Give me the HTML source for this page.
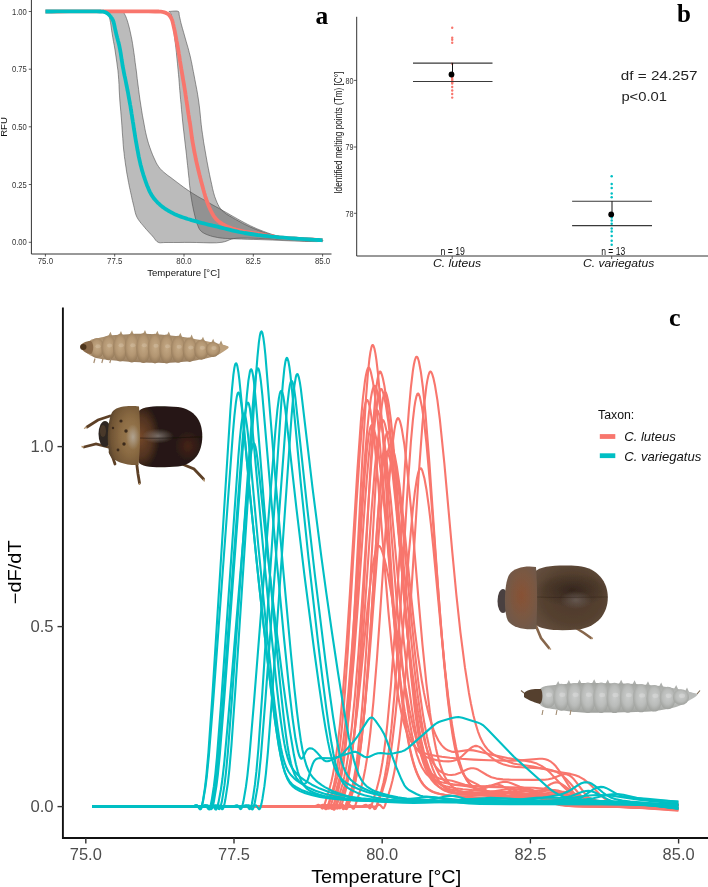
<!DOCTYPE html>
<html><head><meta charset="utf-8"><title>Figure</title>
<style>
html,body{margin:0;padding:0;background:#fff;}
body{width:708px;height:887px;overflow:hidden;}
svg{display:block;font-family:"Liberation Sans",sans-serif;will-change:transform;}
</style></head><body>
<svg width="708" height="887" viewBox="0 0 708 887">
<rect width="708" height="887" fill="#fff"/>
<path d="M108.0,11.5 L108.2,12.3 L108.6,13.8 L109.1,15.8 L109.6,17.9 L110.0,20.0 L110.5,22.5 L110.9,25.1 L111.3,27.9 L111.7,30.8 L112.2,33.8 L112.8,37.6 L113.5,41.6 L114.3,45.7 L115.0,49.9 L115.6,54.0 L116.2,58.0 L116.8,62.1 L117.3,66.1 L117.9,70.2 L118.3,74.5 L118.7,79.5 L119.0,84.6 L119.2,89.9 L119.5,95.1 L119.8,100.0 L120.1,104.1 L120.5,108.0 L120.8,111.8 L121.1,115.8 L121.5,120.0 L121.9,125.8 L122.3,132.1 L122.8,138.5 L123.2,144.6 L123.7,150.0 L124.1,153.3 L124.4,156.4 L124.8,159.3 L125.2,162.1 L125.6,165.0 L126.1,168.0 L126.5,171.1 L127.0,174.1 L127.6,177.1 L128.1,180.0 L128.6,182.6 L129.1,185.2 L129.6,187.7 L130.2,190.2 L130.7,192.7 L131.3,195.2 L131.8,197.8 L132.4,200.4 L133.0,202.9 L133.6,205.4 L134.2,207.8 L134.7,210.3 L135.3,212.7 L136.0,215.0 L137.0,217.3 L138.3,219.5 L139.8,221.6 L141.4,223.6 L143.1,225.6 L144.7,227.5 L146.2,229.3 L147.8,231.0 L149.3,232.7 L150.8,234.3 L152.3,235.9 L153.5,237.3 L154.6,238.8 L155.7,240.3 L156.9,241.5 L158.2,242.3 L159.4,242.7 L160.6,242.8 L161.9,242.7 L163.3,242.6 L165.0,242.5 L168.9,242.5 L173.7,242.5 L179.0,242.5 L184.6,242.4 L190.0,242.4 L196.4,242.5 L203.3,242.7 L210.2,242.9 L216.6,242.8 L222.0,242.3 L224.7,241.7 L227.0,240.9 L229.1,240.0 L231.2,239.2 L233.6,238.6 L236.8,238.2 L240.1,238.1 L243.6,238.1 L247.3,238.1 L251.4,238.2 L258.2,238.4 L265.9,238.8 L274.1,239.2 L282.3,239.6 L290.0,240.0 L297.6,240.4 L306.0,240.9 L313.8,241.3 L319.8,241.4 L322.6,241.0 L322.7,240.9 L322.7,240.8 L322.7,240.6 L322.7,240.5 L322.6,240.4 L320.6,239.9 L316.3,239.6 L310.8,239.5 L305.1,239.3 L300.0,239.0 L295.7,238.6 L291.5,238.2 L287.3,237.7 L283.1,237.1 L279.0,236.3 L275.1,235.3 L271.2,234.1 L267.4,232.8 L263.6,231.4 L260.0,230.0 L256.8,228.7 L253.7,227.3 L250.7,225.9 L247.7,224.4 L244.6,222.8 L241.1,220.9 L237.5,218.9 L233.9,216.9 L230.2,214.8 L226.6,212.7 L223.0,210.7 L219.4,208.6 L215.7,206.6 L212.1,204.6 L208.5,202.5 L204.9,200.4 L201.2,198.4 L197.5,196.3 L193.9,194.1 L190.4,191.9 L187.0,189.6 L183.7,187.3 L180.4,184.8 L177.2,182.4 L174.0,180.0 L171.0,177.7 L167.9,175.5 L165.0,173.2 L162.3,170.9 L160.0,168.5 L158.5,166.5 L157.2,164.5 L156.1,162.5 L155.1,160.3 L154.0,158.0 L152.6,154.8 L151.2,151.2 L149.9,147.6 L148.6,143.8 L147.5,140.0 L146.5,136.1 L145.6,132.2 L144.8,128.2 L144.1,124.2 L143.3,120.0 L142.4,115.2 L141.6,110.2 L140.8,105.1 L140.0,100.0 L139.3,94.8 L138.6,89.4 L137.9,84.0 L137.2,78.5 L136.6,73.0 L135.9,67.7 L135.2,62.7 L134.6,57.6 L133.9,52.6 L133.2,47.8 L132.5,43.3 L131.9,39.8 L131.2,36.3 L130.5,33.1 L129.8,29.9 L129.1,27.0 L128.5,24.8 L127.9,22.6 L127.3,20.6 L126.6,18.7 L126.0,17.0 L125.5,15.9 L125.0,14.9 L124.5,14.0 L124.1,13.2 L123.7,12.5 L123.6,12.2 L123.5,12.0 L123.4,11.8 L123.2,11.7 L123.0,11.5 L120.9,11.2 L117.2,11.1 L113.2,11.2 L109.7,11.4 L108.0,11.5Z" fill="#555" fill-opacity="0.4" stroke="#444" stroke-width="0.55"/>
<path d="M169.0,11.5 L169.2,11.7 L169.6,12.1 L170.1,12.6 L170.6,13.3 L171.0,14.0 L171.6,15.9 L172.0,18.3 L172.4,21.1 L172.7,24.0 L173.1,27.0 L173.6,30.7 L174.2,34.7 L174.7,38.8 L175.3,43.1 L175.8,47.4 L176.4,52.6 L176.9,58.1 L177.5,63.8 L178.0,69.3 L178.5,74.5 L178.9,78.7 L179.2,82.7 L179.5,86.7 L179.8,90.6 L180.2,94.8 L180.6,99.6 L181.1,104.6 L181.5,109.6 L182.0,114.8 L182.5,120.0 L183.1,125.9 L183.8,131.9 L184.5,138.1 L185.2,144.1 L185.9,150.0 L186.5,155.2 L187.0,160.4 L187.6,165.5 L188.1,170.3 L188.6,175.0 L189.0,178.6 L189.3,182.0 L189.6,185.3 L190.0,188.5 L190.4,191.9 L190.9,195.5 L191.5,199.2 L192.1,202.9 L192.8,206.5 L193.5,210.0 L194.2,213.0 L194.9,216.0 L195.6,218.9 L196.4,221.6 L197.2,224.0 L197.8,225.6 L198.4,227.0 L199.0,228.4 L199.7,229.6 L200.6,230.7 L201.5,231.6 L202.6,232.4 L203.7,233.1 L204.9,233.7 L206.2,234.3 L208.2,235.1 L210.3,235.8 L212.7,236.5 L215.1,237.0 L217.5,237.5 L220.0,237.9 L222.6,238.2 L225.2,238.4 L227.9,238.5 L231.0,238.7 L235.9,238.9 L241.3,239.1 L247.1,239.3 L253.3,239.4 L260.0,239.6 L272.8,240.1 L288.8,240.8 L304.6,241.4 L317.0,241.6 L322.6,241.0 L322.7,240.9 L322.7,240.8 L322.7,240.6 L322.7,240.5 L322.6,240.4 L320.6,239.9 L316.3,239.8 L310.8,239.7 L305.1,239.7 L300.0,239.5 L295.8,239.2 L291.6,238.9 L287.5,238.5 L283.3,237.9 L279.0,237.1 L274.0,235.8 L268.8,234.2 L263.6,232.4 L258.5,230.4 L253.7,228.5 L249.8,226.8 L246.0,225.0 L242.4,223.2 L239.0,221.3 L235.6,219.4 L232.6,217.7 L229.6,216.0 L226.8,214.3 L224.2,212.4 L222.0,210.4 L220.4,208.5 L219.1,206.6 L218.0,204.6 L217.0,202.4 L216.0,200.0 L214.7,196.5 L213.6,192.7 L212.6,188.7 L211.7,184.4 L210.7,180.0 L209.5,174.3 L208.3,168.2 L207.1,161.9 L206.0,155.7 L205.0,150.0 L204.3,145.8 L203.6,141.9 L203.1,138.1 L202.5,134.2 L201.9,130.0 L201.2,124.3 L200.6,118.3 L200.0,112.1 L199.3,105.9 L198.5,100.0 L197.7,94.8 L196.8,89.6 L195.8,84.5 L194.9,79.7 L194.0,75.0 L193.3,71.4 L192.6,67.8 L192.0,64.5 L191.3,61.2 L190.6,58.0 L190.0,55.3 L189.3,52.8 L188.7,50.3 L188.0,47.7 L187.2,45.0 L186.1,41.2 L184.9,37.0 L183.7,32.7 L182.5,28.6 L181.5,25.0 L180.9,22.7 L180.4,20.5 L180.0,18.5 L179.5,16.6 L179.2,15.0 L179.1,14.1 L179.1,13.3 L179.0,12.6 L178.9,12.0 L178.5,11.5 L177.0,11.0 L174.7,11.0 L172.2,11.2 L170.1,11.4 L169.0,11.5Z" fill="#555" fill-opacity="0.4" stroke="#444" stroke-width="0.55"/>
<path d="M45.4,11.5 L49.7,11.5 L57.9,11.5 L69.2,11.4 L82.6,11.4 L97.2,11.4 L112.0,11.4 L126.1,11.4 L138.6,11.4 L148.5,11.4 L155.0,11.5 L156.0,11.5 L157.0,11.5 L157.8,11.5 L158.5,11.5 L159.2,11.6 L159.7,11.6 L160.3,11.6 L160.9,11.6 L161.4,11.7 L162.0,11.8 L162.5,11.9 L162.9,12.0 L163.3,12.1 L163.7,12.2 L164.1,12.3 L164.5,12.4 L164.9,12.5 L165.3,12.7 L165.6,12.8 L166.0,13.0 L166.3,13.2 L166.7,13.3 L167.0,13.5 L167.3,13.6 L167.6,13.8 L167.9,14.0 L168.2,14.2 L168.5,14.4 L168.7,14.6 L169.0,14.9 L169.3,15.3 L169.6,15.6 L169.9,16.0 L170.2,16.5 L170.5,17.0 L170.8,17.4 L171.1,17.9 L171.3,18.4 L171.6,19.0 L171.8,19.5 L172.1,20.1 L172.3,20.8 L172.5,21.5 L172.7,22.2 L172.9,22.9 L173.0,23.6 L173.2,24.4 L173.4,25.2 L173.6,26.1 L173.8,27.0 L174.2,28.6 L174.6,30.5 L175.0,32.4 L175.4,34.5 L175.8,36.7 L176.2,38.9 L176.6,41.1 L177.1,43.3 L177.4,45.4 L177.8,47.4 L178.1,49.1 L178.4,50.8 L178.7,52.4 L178.9,54.0 L179.2,55.6 L179.4,57.2 L179.7,58.8 L179.9,60.5 L180.2,62.2 L180.5,64.0 L180.9,66.4 L181.3,68.9 L181.8,71.5 L182.2,74.2 L182.7,76.9 L183.1,79.7 L183.6,82.4 L184.1,85.2 L184.5,87.8 L184.9,90.4 L185.3,92.8 L185.6,95.1 L186.0,97.5 L186.3,99.8 L186.7,102.1 L187.0,104.4 L187.4,106.7 L187.7,108.9 L188.0,111.0 L188.3,113.0 L188.5,114.5 L188.8,116.0 L189.0,117.4 L189.2,118.8 L189.4,120.2 L189.6,121.5 L189.9,122.8 L190.1,124.2 L190.3,125.6 L190.5,127.0 L190.7,128.5 L190.9,130.0 L191.1,131.5 L191.3,133.0 L191.5,134.6 L191.7,136.1 L191.9,137.7 L192.2,139.3 L192.4,140.9 L192.7,142.6 L193.1,144.7 L193.5,146.9 L193.9,149.2 L194.3,151.5 L194.8,153.8 L195.3,156.2 L195.7,158.5 L196.2,160.8 L196.7,163.0 L197.2,165.2 L197.6,167.1 L198.1,169.0 L198.5,170.8 L199.0,172.7 L199.4,174.5 L199.9,176.3 L200.3,178.0 L200.8,179.8 L201.2,181.6 L201.7,183.3 L202.1,184.9 L202.6,186.6 L203.0,188.2 L203.4,189.8 L203.9,191.5 L204.3,193.0 L204.8,194.6 L205.2,196.1 L205.7,197.6 L206.2,199.1 L206.6,200.3 L207.0,201.5 L207.5,202.7 L207.9,203.9 L208.3,205.0 L208.8,206.1 L209.2,207.2 L209.7,208.3 L210.2,209.3 L210.7,210.4 L211.2,211.4 L211.7,212.3 L212.2,213.3 L212.7,214.2 L213.2,215.2 L213.8,216.1 L214.4,216.9 L215.0,217.8 L215.7,218.6 L216.4,219.4 L217.2,220.2 L218.1,221.0 L219.1,221.7 L220.1,222.5 L221.1,223.1 L222.2,223.8 L223.2,224.4 L224.3,225.0 L225.5,225.6 L226.6,226.2 L227.8,226.8 L229.1,227.3 L230.4,227.8 L231.7,228.3 L233.0,228.7 L234.4,229.1 L235.8,229.6 L237.2,229.9 L238.6,230.3 L240.1,230.7 L241.9,231.1 L243.8,231.5 L245.8,231.9 L247.8,232.2 L249.8,232.5 L251.9,232.9 L253.9,233.2 L256.0,233.5 L258.0,233.8 L260.0,234.1 L261.9,234.4 L263.8,234.8 L265.6,235.1 L267.5,235.5 L269.3,235.8 L271.2,236.1 L273.1,236.4 L275.0,236.8 L277.0,237.0 L279.1,237.3 L281.9,237.6 L284.8,237.9 L287.9,238.1 L291.0,238.3 L294.2,238.5 L297.4,238.7 L300.5,238.8 L303.5,239.0 L306.3,239.1 L308.8,239.3 L310.5,239.4 L312.3,239.5 L314.0,239.6 L315.8,239.8 L317.4,239.9 L319.0,240.0 L320.3,240.1 L321.4,240.1 L322.2,240.2 L322.6,240.2" fill="none" stroke="#F8766D" stroke-width="3.8" stroke-linejoin="round" stroke-linecap="butt"/>
<path d="M45.4,11.5 L47.5,11.5 L51.6,11.5 L57.1,11.4 L63.7,11.4 L70.9,11.3 L78.2,11.3 L85.3,11.3 L91.5,11.3 L96.6,11.4 L100.0,11.5 L100.7,11.5 L101.2,11.6 L101.8,11.6 L102.2,11.6 L102.6,11.7 L103.0,11.7 L103.4,11.7 L103.8,11.8 L104.1,11.9 L104.5,12.0 L104.8,12.1 L105.2,12.2 L105.5,12.3 L105.8,12.5 L106.1,12.6 L106.4,12.8 L106.6,12.9 L106.9,13.1 L107.2,13.3 L107.5,13.5 L107.8,13.7 L108.1,14.0 L108.4,14.3 L108.8,14.6 L109.1,14.9 L109.4,15.2 L109.7,15.5 L109.9,15.8 L110.2,16.2 L110.5,16.5 L110.8,16.8 L111.0,17.2 L111.3,17.5 L111.5,17.8 L111.8,18.2 L112.0,18.5 L112.2,18.9 L112.5,19.3 L112.7,19.8 L112.9,20.3 L113.3,21.3 L113.6,22.4 L114.0,23.7 L114.3,25.1 L114.6,26.5 L114.9,28.0 L115.2,29.5 L115.6,31.0 L115.9,32.4 L116.2,33.8 L116.5,35.1 L116.9,36.5 L117.2,37.8 L117.6,39.1 L117.9,40.4 L118.3,41.8 L118.6,43.1 L119.0,44.5 L119.3,45.9 L119.6,47.4 L120.0,49.3 L120.3,51.2 L120.7,53.2 L121.0,55.2 L121.3,57.3 L121.6,59.4 L122.0,61.5 L122.3,63.6 L122.6,65.7 L123.0,67.7 L123.4,69.7 L123.8,71.8 L124.2,73.9 L124.6,75.9 L125.1,78.0 L125.5,80.0 L125.9,82.0 L126.3,84.1 L126.7,86.0 L127.1,88.0 L127.4,89.8 L127.8,91.5 L128.1,93.2 L128.4,95.0 L128.7,96.7 L129.0,98.3 L129.3,100.0 L129.6,101.7 L129.9,103.3 L130.2,105.0 L130.5,106.5 L130.7,108.0 L130.9,109.5 L131.2,110.9 L131.4,112.4 L131.6,113.8 L131.9,115.3 L132.1,116.8 L132.3,118.4 L132.6,120.0 L132.9,122.1 L133.3,124.2 L133.6,126.4 L133.9,128.7 L134.3,131.0 L134.7,133.3 L135.0,135.7 L135.4,138.0 L135.8,140.3 L136.2,142.6 L136.6,144.9 L137.0,147.2 L137.4,149.5 L137.9,151.8 L138.3,154.1 L138.7,156.4 L139.2,158.6 L139.7,160.9 L140.2,163.1 L140.7,165.2 L141.2,167.1 L141.7,169.0 L142.2,170.9 L142.8,172.8 L143.3,174.6 L143.9,176.4 L144.5,178.2 L145.1,180.0 L145.7,181.7 L146.3,183.3 L146.8,184.7 L147.3,186.0 L147.9,187.3 L148.4,188.6 L148.9,189.9 L149.5,191.1 L150.1,192.3 L150.7,193.4 L151.3,194.6 L152.0,195.7 L152.7,196.7 L153.4,197.7 L154.2,198.7 L154.9,199.6 L155.7,200.5 L156.6,201.4 L157.4,202.3 L158.2,203.1 L159.1,203.9 L159.9,204.7 L160.7,205.4 L161.4,206.0 L162.2,206.6 L162.9,207.2 L163.7,207.7 L164.5,208.3 L165.3,208.8 L166.1,209.3 L166.9,209.9 L167.8,210.4 L168.8,211.0 L169.9,211.6 L170.9,212.2 L172.0,212.7 L173.1,213.3 L174.2,213.9 L175.4,214.4 L176.6,214.9 L177.8,215.5 L179.1,216.0 L180.7,216.6 L182.4,217.2 L184.1,217.8 L185.9,218.4 L187.7,219.0 L189.6,219.5 L191.5,220.1 L193.4,220.6 L195.3,221.2 L197.2,221.7 L199.3,222.3 L201.5,222.9 L203.7,223.4 L206.0,224.0 L208.3,224.6 L210.6,225.1 L212.9,225.7 L215.2,226.2 L217.5,226.7 L219.8,227.3 L222.2,227.9 L224.6,228.5 L227.0,229.1 L229.4,229.7 L231.9,230.3 L234.3,230.9 L236.8,231.4 L239.3,232.0 L241.9,232.5 L244.6,233.0 L247.8,233.5 L251.1,234.0 L254.4,234.5 L257.8,235.0 L261.2,235.4 L264.7,235.8 L268.3,236.2 L271.8,236.6 L275.5,236.9 L279.1,237.3 L283.6,237.7 L288.6,238.1 L294.0,238.5 L299.5,238.9 L305.0,239.2 L310.1,239.5 L314.6,239.8 L318.4,240.0 L321.1,240.2 L322.6,240.3" fill="none" stroke="#00BFC4" stroke-width="3.8" stroke-linejoin="round" stroke-linecap="butt"/>
<path d="M31.4,0 V254 H331.5" fill="none" stroke="#333" stroke-width="1"/>
<line x1="28.8" y1="11.5" x2="31.4" y2="11.5" stroke="#333" stroke-width="0.8"/>
<text x="26.8" y="14.5" font-size="8.9" text-anchor="end" fill="#333" textLength="14.9" lengthAdjust="spacingAndGlyphs">1.00</text>
<line x1="28.8" y1="69.2" x2="31.4" y2="69.2" stroke="#333" stroke-width="0.8"/>
<text x="26.8" y="72.2" font-size="8.9" text-anchor="end" fill="#333" textLength="14.9" lengthAdjust="spacingAndGlyphs">0.75</text>
<line x1="28.8" y1="126.8" x2="31.4" y2="126.8" stroke="#333" stroke-width="0.8"/>
<text x="26.8" y="129.8" font-size="8.9" text-anchor="end" fill="#333" textLength="14.9" lengthAdjust="spacingAndGlyphs">0.50</text>
<line x1="28.8" y1="184.5" x2="31.4" y2="184.5" stroke="#333" stroke-width="0.8"/>
<text x="26.8" y="187.5" font-size="8.9" text-anchor="end" fill="#333" textLength="14.9" lengthAdjust="spacingAndGlyphs">0.25</text>
<line x1="28.8" y1="242.3" x2="31.4" y2="242.3" stroke="#333" stroke-width="0.8"/>
<text x="26.8" y="245.3" font-size="8.9" text-anchor="end" fill="#333" textLength="14.9" lengthAdjust="spacingAndGlyphs">0.00</text>
<line x1="45.4" y1="254" x2="45.4" y2="256.6" stroke="#333" stroke-width="0.8"/>
<text x="45.4" y="264.4" font-size="8.7" text-anchor="middle" fill="#333" textLength="15.3" lengthAdjust="spacingAndGlyphs">75.0</text>
<line x1="114.7" y1="254" x2="114.7" y2="256.6" stroke="#333" stroke-width="0.8"/>
<text x="114.7" y="264.4" font-size="8.7" text-anchor="middle" fill="#333" textLength="15.3" lengthAdjust="spacingAndGlyphs">77.5</text>
<line x1="184.0" y1="254" x2="184.0" y2="256.6" stroke="#333" stroke-width="0.8"/>
<text x="184.0" y="264.4" font-size="8.7" text-anchor="middle" fill="#333" textLength="15.3" lengthAdjust="spacingAndGlyphs">80.0</text>
<line x1="253.3" y1="254" x2="253.3" y2="256.6" stroke="#333" stroke-width="0.8"/>
<text x="253.3" y="264.4" font-size="8.7" text-anchor="middle" fill="#333" textLength="15.3" lengthAdjust="spacingAndGlyphs">82.5</text>
<line x1="322.6" y1="254" x2="322.6" y2="256.6" stroke="#333" stroke-width="0.8"/>
<text x="322.6" y="264.4" font-size="8.7" text-anchor="middle" fill="#333" textLength="15.3" lengthAdjust="spacingAndGlyphs">85.0</text>
<text x="183.5" y="275.6" font-size="9.6" text-anchor="middle" fill="#111">Temperature [°C]</text>
<text transform="translate(7.3,127) rotate(-90)" font-size="9.6" text-anchor="middle" fill="#111">RFU</text>
<text x="315.4" y="23.7" font-family="Liberation Serif" font-weight="bold" font-size="25.5">a</text>
<path d="M356.7,16.8 V256 H708" fill="none" stroke="#333" stroke-width="1"/>
<line x1="353.8" y1="80.4" x2="356.7" y2="80.4" stroke="#333" stroke-width="0.8"/>
<text x="353.6" y="83.8" font-size="9.5" text-anchor="end" fill="#333" textLength="8" lengthAdjust="spacingAndGlyphs">80</text>
<line x1="353.8" y1="147.0" x2="356.7" y2="147.0" stroke="#333" stroke-width="0.8"/>
<text x="353.6" y="150.4" font-size="9.5" text-anchor="end" fill="#333" textLength="8" lengthAdjust="spacingAndGlyphs">79</text>
<line x1="353.8" y1="213.3" x2="356.7" y2="213.3" stroke="#333" stroke-width="0.8"/>
<text x="353.6" y="216.7" font-size="9.5" text-anchor="end" fill="#333" textLength="8" lengthAdjust="spacingAndGlyphs">78</text>
<line x1="452.2" y1="256" x2="452.2" y2="259" stroke="#333" stroke-width="0.8"/>
<line x1="611.7" y1="256" x2="611.7" y2="259" stroke="#333" stroke-width="0.8"/>
<text transform="translate(341.6,132.7) rotate(-90)" font-size="10.2" text-anchor="middle" fill="#111" textLength="122" lengthAdjust="spacingAndGlyphs">Identified melting points (Tm) [C°]</text>
<circle cx="452.2" cy="27.7" r="1.2" fill="#F8766D"/>
<circle cx="452.2" cy="37.8" r="1.2" fill="#F8766D"/>
<circle cx="452.2" cy="39.8" r="1.2" fill="#F8766D"/>
<circle cx="452.2" cy="42.8" r="1.2" fill="#F8766D"/>
<circle cx="452.2" cy="63.7" r="1.2" fill="#F8766D"/>
<circle cx="452.2" cy="75.2" r="1.2" fill="#F8766D"/>
<circle cx="452.2" cy="76.6" r="1.2" fill="#F8766D"/>
<circle cx="452.2" cy="78.0" r="1.2" fill="#F8766D"/>
<circle cx="452.2" cy="79.4" r="1.2" fill="#F8766D"/>
<circle cx="452.2" cy="80.8" r="1.2" fill="#F8766D"/>
<circle cx="452.2" cy="82.2" r="1.2" fill="#F8766D"/>
<circle cx="452.2" cy="83.6" r="1.2" fill="#F8766D"/>
<circle cx="452.2" cy="87.0" r="1.2" fill="#F8766D"/>
<circle cx="452.2" cy="90.5" r="1.2" fill="#F8766D"/>
<circle cx="452.2" cy="94.0" r="1.2" fill="#F8766D"/>
<circle cx="452.2" cy="97.6" r="1.2" fill="#F8766D"/>
<circle cx="611.7" cy="176.3" r="1.25" fill="#00BFC4"/>
<circle cx="611.7" cy="184.1" r="1.25" fill="#00BFC4"/>
<circle cx="611.7" cy="188.0" r="1.25" fill="#00BFC4"/>
<circle cx="611.7" cy="193.4" r="1.25" fill="#00BFC4"/>
<circle cx="611.7" cy="197.3" r="1.25" fill="#00BFC4"/>
<circle cx="611.7" cy="217.5" r="1.25" fill="#00BFC4"/>
<circle cx="611.7" cy="220.6" r="1.25" fill="#00BFC4"/>
<circle cx="611.7" cy="223.7" r="1.25" fill="#00BFC4"/>
<circle cx="611.7" cy="228.4" r="1.25" fill="#00BFC4"/>
<circle cx="611.7" cy="231.5" r="1.25" fill="#00BFC4"/>
<circle cx="611.7" cy="236.1" r="1.25" fill="#00BFC4"/>
<circle cx="611.7" cy="240.8" r="1.25" fill="#00BFC4"/>
<circle cx="611.7" cy="244.7" r="1.25" fill="#00BFC4"/>
<path d="M413,63.1 H492.5 M413,81.5 H492.5 M572.1,201.2 H652 M572.1,225.6 H652" stroke="#3a3a3a" stroke-width="1.1"/>
<path d="M452.5,63.1 V74.5 M612,201.2 V214.4" stroke="#111" stroke-width="1"/>
<circle cx="451.5" cy="74.5" r="2.9" fill="#000"/>
<circle cx="611.2" cy="214.4" r="2.9" fill="#000"/>
<text x="452.7" y="254.6" font-size="10.8" text-anchor="middle" fill="#111" textLength="24.5" lengthAdjust="spacingAndGlyphs">n = 19</text>
<text x="613.2" y="254.6" font-size="10.8" text-anchor="middle" fill="#111" textLength="24.1" lengthAdjust="spacingAndGlyphs">n = 13</text>
<text x="457" y="267.2" font-size="10.2" font-style="italic" text-anchor="middle" fill="#111" textLength="48" lengthAdjust="spacingAndGlyphs">C. luteus</text>
<text x="618.6" y="267.2" font-size="10.2" font-style="italic" text-anchor="middle" fill="#111" textLength="71.3" lengthAdjust="spacingAndGlyphs">C. variegatus</text>
<text x="620.8" y="80.1" font-size="12.5" fill="#222" textLength="76.7" lengthAdjust="spacingAndGlyphs">df = 24.257</text>
<text x="621.4" y="101.3" font-size="12.5" fill="#222" textLength="45.6" lengthAdjust="spacingAndGlyphs">p&lt;0.01</text>
<text x="677" y="22" font-family="Liberation Serif" font-weight="bold" font-size="25">b</text>
<g fill="none" stroke="#F8766D" stroke-width="2.1" stroke-linejoin="round">
<path d="M92.4,806.6 L265.4,806.6 L321.9,807.0 L324.4,806.7 L326.9,805.5 L327.9,805.2 L328.9,805.7 L331.4,808.6 L331.9,808.7 L332.4,808.3 L332.9,807.5 L333.9,804.5 L337.9,789.3 L339.4,782.7 L340.9,774.7 L342.9,761.5 L344.4,749.5 L347.4,719.2 L350.4,679.8 L353.4,631.5 L362.4,458.0 L365.9,399.1 L367.9,373.4 L369.4,359.0 L370.4,352.1 L371.4,347.4 L371.9,345.9 L372.4,345.1 L372.9,345.0 L373.4,345.6 L374.4,348.5 L375.4,353.4 L376.4,360.0 L377.9,372.8 L379.9,394.8 L383.4,443.7 L389.9,548.6 L392.9,593.9 L396.4,639.4 L399.4,671.0 L400.9,684.2 L402.9,699.4 L404.9,712.0 L406.9,722.3 L408.9,730.6 L410.9,737.1 L413.4,743.4 L415.9,747.9 L418.4,751.2 L420.9,753.6 L423.9,755.7 L427.4,757.4 L432.4,759.1 L437.9,760.4 L443.4,761.2 L448.4,761.4 L450.9,761.3 L453.4,760.8 L455.9,760.0 L457.9,759.1 L459.9,757.9 L461.9,756.3 L468.9,749.6 L471.4,747.6 L472.9,746.7 L474.4,746.1 L475.9,745.9 L477.4,746.1 L479.4,746.9 L481.9,748.7 L489.9,756.3 L494.4,759.9 L498.9,762.5 L503.9,764.6 L509.4,766.0 L515.4,766.9 L521.4,767.3 L537.9,768.1 L545.4,768.9 L551.9,770.2 L556.9,772.1 L561.4,774.8 L565.9,778.7 L569.9,782.9 L578.4,793.0 L583.4,797.9 L585.9,799.8 L588.4,801.3 L590.9,802.6 L593.9,803.7 L596.9,804.6 L600.4,805.3 L609.9,806.3 L651.9,808.5 L678.4,810.2"/>
<path d="M92.4,806.6 L311.4,806.6 L314.9,806.3 L317.4,805.1 L318.4,804.8 L319.4,805.3 L321.9,808.4 L322.4,808.6 L322.9,808.3 L323.4,807.6 L324.4,804.9 L329.4,789.1 L331.4,781.5 L332.9,774.6 L334.9,763.6 L336.4,753.7 L338.4,738.3 L339.9,724.8 L342.9,692.8 L346.4,646.9 L349.9,593.3 L357.4,470.0 L360.9,420.7 L362.9,398.3 L364.9,381.5 L365.9,375.4 L366.9,370.9 L367.9,368.2 L368.4,367.7 L368.9,367.6 L369.4,368.1 L369.9,369.1 L370.9,372.2 L372.9,381.7 L375.4,399.0 L377.9,421.5 L382.4,472.1 L390.9,582.1 L394.4,624.8 L398.4,667.7 L402.4,703.2 L404.4,718.1 L406.9,734.0 L408.9,744.8 L411.4,756.1 L413.9,765.2 L416.4,772.3 L418.9,777.9 L421.9,783.0 L424.4,786.1 L426.9,788.4 L429.9,790.5 L432.9,792.0 L436.4,793.2 L440.9,794.3 L445.9,795.1 L451.9,795.7 L459.4,796.2 L466.4,796.2 L472.4,795.9 L484.4,794.7 L490.4,794.6 L496.9,795.0 L509.4,796.7 L514.4,797.1 L519.4,797.2 L528.4,796.8 L531.9,796.9 L534.9,797.3 L538.4,798.1 L552.4,802.6 L559.4,804.4 L566.9,805.6 L576.4,806.2 L592.4,806.5 L613.4,806.5 L643.4,806.0 L678.4,805.0"/>
<path d="M92.4,806.6 L328.9,806.6 L332.4,806.3 L334.9,805.1 L335.9,804.8 L336.9,805.3 L339.4,808.3 L339.9,808.4 L340.4,808.1 L340.9,807.2 L341.9,804.3 L345.9,789.6 L347.4,783.1 L348.9,775.3 L350.4,765.9 L351.9,754.8 L354.9,726.4 L357.9,689.3 L360.9,643.4 L363.4,599.5 L369.9,477.2 L372.9,428.1 L374.9,402.2 L376.4,387.4 L377.4,380.0 L378.4,374.9 L379.4,372.0 L379.9,371.5 L380.4,371.6 L380.9,372.2 L381.9,374.8 L382.9,378.5 L384.4,385.9 L386.9,402.6 L389.4,424.0 L393.9,472.2 L402.9,583.1 L406.4,623.6 L410.9,669.0 L414.9,702.0 L416.9,715.9 L419.4,730.9 L421.4,741.2 L423.9,752.0 L426.4,760.7 L428.9,767.7 L431.4,773.2 L434.4,778.3 L436.9,781.4 L439.4,783.9 L441.9,785.7 L444.9,787.4 L448.4,788.8 L452.4,789.9 L457.4,790.9 L463.4,791.7 L474.4,792.6 L483.4,792.6 L490.9,791.8 L506.4,789.3 L510.4,789.0 L514.4,789.1 L519.9,789.8 L533.9,792.9 L541.9,794.1 L550.4,794.7 L571.9,795.4 L577.4,795.9 L581.9,796.5 L585.9,797.3 L589.9,798.3 L601.9,802.4 L606.4,803.8 L611.4,804.9 L616.4,805.5 L623.9,806.0 L634.4,806.2 L678.4,805.8"/>
<path d="M92.4,806.6 L315.9,806.7 L319.4,806.3 L321.9,805.1 L322.9,804.8 L323.9,805.3 L326.4,808.4 L326.9,808.5 L327.4,808.3 L328.4,806.3 L330.9,798.3 L333.9,789.7 L335.9,782.7 L337.4,776.5 L339.4,766.5 L341.4,754.4 L343.4,739.9 L344.9,727.3 L348.4,692.1 L351.9,648.8 L355.4,598.9 L362.9,484.8 L364.9,457.4 L366.9,433.2 L368.9,413.2 L370.9,398.1 L371.9,392.6 L372.9,388.6 L373.9,386.2 L374.4,385.7 L374.9,385.7 L375.4,386.2 L375.9,387.1 L376.9,390.3 L378.9,400.0 L380.9,414.0 L383.4,436.6 L387.4,481.8 L395.4,585.6 L398.9,627.9 L402.9,669.6 L406.4,699.4 L408.4,713.7 L410.4,726.0 L412.4,736.6 L414.9,747.5 L416.9,754.6 L419.4,761.7 L421.9,767.2 L424.9,772.0 L426.9,774.5 L429.4,776.8 L431.9,778.6 L434.9,780.1 L438.4,781.4 L442.4,782.5 L446.9,783.3 L452.9,784.2 L460.9,785.0 L470.4,785.7 L479.4,786.2 L484.9,786.2 L488.4,785.9 L491.9,785.3 L500.4,782.5 L502.9,781.9 L505.4,781.7 L508.4,782.2 L511.4,783.2 L519.9,786.7 L530.9,790.0 L535.4,791.6 L540.4,794.1 L550.9,800.1 L555.9,802.5 L560.9,804.1 L566.4,805.3 L571.9,805.9 L578.4,806.3 L607.4,806.7 L626.4,807.2 L651.4,808.1 L678.4,809.5"/>
<path d="M92.4,806.6 L322.4,806.6 L325.9,806.4 L326.9,806.1 L328.9,805.0 L329.9,804.8 L330.9,805.2 L333.4,808.4 L333.9,808.5 L334.4,808.3 L335.4,806.3 L337.9,798.4 L340.9,789.7 L342.9,782.7 L344.4,776.3 L346.4,766.2 L348.4,753.9 L350.4,739.2 L351.9,726.5 L354.9,696.3 L358.4,653.5 L361.9,603.8 L369.4,489.3 L371.4,461.6 L373.4,437.1 L375.4,416.9 L377.4,401.6 L378.4,396.1 L379.4,392.0 L380.4,389.6 L380.9,389.1 L381.4,389.1 L381.9,389.6 L382.4,390.6 L383.4,393.6 L384.4,397.6 L385.9,405.4 L388.4,422.4 L390.9,444.1 L395.4,491.8 L403.9,594.0 L407.4,633.5 L411.4,673.3 L415.4,706.3 L417.4,720.2 L419.9,735.2 L421.9,745.4 L424.4,756.2 L426.9,764.9 L429.4,771.8 L431.9,777.3 L434.9,782.3 L436.9,784.8 L439.4,787.2 L441.9,789.1 L444.9,790.7 L447.9,791.9 L451.4,792.9 L455.9,793.7 L460.9,794.4 L472.4,795.3 L487.9,795.9 L508.4,796.3 L520.4,796.2 L525.4,795.8 L529.9,795.2 L534.9,794.0 L546.9,790.6 L550.4,790.1 L553.9,790.0 L557.9,790.6 L562.4,791.9 L580.4,799.4 L588.9,802.6 L594.4,804.1 L600.4,805.3 L607.4,806.1 L616.9,806.6 L678.4,808.3"/>
<path d="M92.4,806.6 L334.4,806.7 L337.9,806.4 L340.4,805.2 L341.4,804.9 L342.4,805.4 L344.9,808.4 L345.4,808.5 L345.9,808.2 L346.4,807.4 L347.4,804.5 L351.4,790.0 L352.9,783.7 L354.4,776.1 L355.9,766.9 L357.4,756.0 L360.4,728.4 L362.9,698.9 L365.9,655.8 L368.9,605.5 L375.4,488.7 L378.4,442.5 L380.4,418.5 L381.9,405.1 L382.9,398.7 L383.9,394.3 L384.4,393.0 L384.9,392.3 L385.4,392.2 L385.9,392.7 L386.9,395.4 L387.9,399.7 L388.9,405.3 L390.9,420.2 L392.9,439.5 L396.9,488.3 L403.9,587.2 L407.4,633.5 L410.9,673.5 L414.4,706.1 L415.9,717.8 L417.9,731.2 L419.9,742.6 L421.9,751.9 L423.9,759.5 L426.4,766.9 L428.9,772.5 L431.4,776.6 L433.4,779.1 L435.9,781.4 L438.9,783.4 L441.9,784.9 L445.9,786.2 L450.4,787.3 L455.9,788.3 L462.9,789.2 L471.9,790.1 L482.4,790.9 L494.4,791.5 L506.9,791.8 L515.4,791.9 L522.4,791.7 L542.9,790.1 L546.9,790.2 L550.9,790.7 L554.9,791.7 L558.9,793.3 L562.4,795.1 L571.4,800.2 L576.4,802.5 L581.9,804.3 L588.4,805.5 L593.4,806.0 L599.4,806.3 L643.9,807.4 L678.4,808.5"/>
<path d="M92.4,806.6 L259.9,806.6 L315.9,806.9 L318.4,806.7 L320.9,805.5 L321.9,805.3 L322.9,805.8 L325.4,809.1 L325.9,809.3 L326.4,809.1 L326.9,808.4 L327.9,805.7 L332.4,790.9 L333.9,784.9 L335.4,777.7 L337.4,765.9 L338.9,755.1 L341.9,728.0 L344.9,692.8 L347.9,649.7 L356.4,504.8 L359.9,451.7 L361.9,428.1 L363.4,414.6 L364.4,407.9 L365.4,403.1 L366.4,400.5 L366.9,400.0 L367.4,400.1 L368.4,401.9 L369.4,405.4 L370.4,410.2 L372.4,423.4 L374.4,440.8 L377.9,479.3 L385.4,575.7 L388.4,611.7 L391.9,647.9 L395.4,677.3 L397.4,691.1 L399.4,703.0 L401.4,713.0 L403.4,721.4 L405.4,728.3 L407.9,735.2 L410.4,740.5 L413.4,745.1 L415.9,747.9 L418.4,749.9 L421.4,751.7 L425.4,753.4 L429.9,754.7 L435.4,755.8 L441.9,756.8 L449.9,757.8 L460.9,758.8 L473.9,759.6 L488.9,760.2 L504.9,760.6 L513.9,760.7 L520.9,760.4 L539.4,758.7 L542.4,758.8 L545.4,759.2 L548.4,760.3 L550.9,761.7 L553.4,763.7 L555.9,766.3 L560.4,772.4 L570.9,789.1 L573.9,793.1 L576.4,796.0 L578.9,798.4 L581.4,800.3 L584.4,802.1 L587.4,803.5 L590.9,804.6 L594.4,805.3 L598.9,805.9 L604.4,806.3 L678.4,808.5"/>
<path d="M92.4,806.6 L342.4,806.6 L345.9,806.3 L348.4,805.1 L349.4,804.9 L350.4,805.3 L352.9,808.6 L353.4,808.8 L353.9,808.5 L354.9,806.6 L360.4,789.9 L361.9,784.6 L363.4,778.3 L365.4,768.2 L366.9,759.1 L368.9,744.7 L370.4,732.1 L373.4,702.2 L376.9,659.3 L379.9,616.8 L386.9,511.3 L390.4,465.9 L392.4,445.4 L394.4,430.1 L395.4,424.6 L396.4,420.7 L397.4,418.5 L397.9,418.1 L398.4,418.2 L398.9,418.8 L399.9,421.1 L400.9,424.7 L401.9,429.3 L404.4,444.9 L406.9,465.8 L410.9,507.7 L418.9,604.2 L422.4,644.0 L426.4,683.7 L429.9,712.4 L431.9,726.1 L433.9,738.0 L435.9,748.2 L437.9,756.8 L439.9,764.0 L442.4,771.2 L444.9,776.8 L447.9,781.7 L449.9,784.3 L451.9,786.3 L454.4,788.2 L456.9,789.7 L459.9,791.0 L462.9,791.9 L466.4,792.7 L469.9,793.1 L474.9,793.3 L486.4,792.8 L489.9,793.0 L498.4,794.3 L502.9,794.3 L505.4,793.9 L508.4,793.1 L516.9,789.7 L520.4,788.5 L523.9,788.1 L526.9,788.4 L529.9,789.3 L532.9,790.8 L544.9,799.0 L550.4,802.0 L553.9,803.4 L557.4,804.4 L560.9,805.1 L565.4,805.6 L571.9,806.1 L580.4,806.3 L608.4,806.5 L640.4,805.7 L678.4,804.3"/>
<path d="M92.4,806.6 L358.4,806.6 L360.9,806.6 L362.4,806.3 L364.9,805.0 L365.9,804.8 L366.9,805.2 L369.4,808.2 L369.9,808.4 L370.4,808.1 L371.4,806.0 L376.9,788.3 L378.9,780.6 L380.4,773.7 L382.4,762.5 L383.9,752.6 L385.9,737.1 L387.4,723.6 L390.9,685.5 L394.4,638.2 L397.4,591.7 L404.9,466.9 L406.9,436.6 L408.9,409.7 L410.9,387.4 L412.9,370.6 L413.9,364.5 L414.9,360.0 L415.9,357.3 L416.4,356.8 L416.9,356.7 L417.4,357.2 L417.9,358.2 L418.9,361.5 L420.9,372.2 L422.9,387.5 L425.4,412.5 L429.4,462.8 L436.9,571.3 L440.4,619.1 L443.9,661.3 L447.4,696.4 L450.9,724.2 L452.9,737.1 L454.9,747.8 L456.9,756.6 L458.9,763.7 L460.9,769.2 L463.4,774.2 L465.9,777.6 L468.4,779.8 L470.4,781.0 L477.4,784.4 L487.9,791.6 L490.4,792.9 L492.9,793.9 L495.9,794.7 L499.4,795.3 L504.4,795.9 L509.4,796.0 L513.9,795.9 L523.4,795.0 L528.9,795.1 L532.9,795.7 L541.9,797.5 L546.4,798.1 L564.9,799.4 L572.4,800.2 L578.4,801.3 L594.4,804.7 L599.9,805.5 L605.9,805.9 L615.9,806.2 L629.9,806.1 L678.4,804.7"/>
<path d="M92.4,806.6 L371.9,806.7 L374.4,806.6 L375.9,806.3 L378.4,805.0 L379.4,804.8 L380.4,805.2 L382.9,808.1 L383.4,808.3 L383.9,807.9 L384.9,805.9 L390.4,788.4 L392.4,780.8 L393.9,774.1 L395.9,763.2 L397.4,753.7 L399.4,738.6 L400.9,725.6 L404.4,688.9 L407.9,643.7 L411.4,591.3 L418.4,479.5 L422.4,424.4 L424.4,402.7 L426.4,386.1 L427.4,380.1 L428.4,375.5 L429.4,372.6 L429.9,371.8 L430.4,371.5 L430.9,371.7 L431.4,372.3 L432.4,374.7 L433.4,378.1 L434.9,384.9 L437.4,400.2 L439.9,419.8 L444.4,463.9 L452.4,553.2 L456.4,595.2 L460.4,632.2 L464.9,667.2 L468.9,692.7 L470.9,703.5 L473.4,715.2 L475.4,723.1 L477.9,731.3 L480.4,737.8 L482.9,742.8 L484.9,746.0 L487.4,749.2 L489.9,751.6 L492.4,753.6 L495.9,755.8 L499.9,758.0 L505.4,760.5 L509.9,762.3 L513.4,763.4 L517.4,764.3 L533.4,766.5 L552.4,771.0 L570.4,773.9 L575.4,775.2 L579.4,776.8 L583.9,779.4 L587.9,782.5 L591.4,785.8 L599.9,794.5 L604.4,798.4 L606.9,800.2 L609.4,801.6 L614.4,803.7 L617.9,804.6 L621.9,805.3 L631.9,806.1 L646.9,806.4 L678.4,806.4"/>
<path d="M92.4,806.6 L363.9,806.6 L367.4,806.4 L369.9,805.1 L370.9,804.9 L371.9,805.4 L374.4,808.6 L374.9,808.8 L375.4,808.6 L376.4,806.6 L381.4,790.6 L383.4,782.9 L384.9,775.9 L386.9,764.4 L388.4,754.0 L391.4,728.2 L394.4,695.0 L397.4,654.6 L400.4,608.1 L407.4,491.6 L410.9,441.8 L412.9,419.8 L414.4,407.2 L415.4,400.9 L416.4,396.5 L417.4,393.9 L417.9,393.5 L418.4,393.6 L418.9,394.3 L419.9,397.2 L421.9,406.7 L423.9,420.4 L426.4,442.9 L430.4,488.3 L438.4,593.2 L441.9,636.3 L445.4,674.0 L448.9,705.4 L450.9,720.4 L452.9,733.4 L454.9,744.5 L456.9,753.8 L458.9,761.5 L461.4,769.2 L463.9,775.1 L466.4,779.6 L468.4,782.3 L470.9,784.9 L473.4,786.9 L475.9,788.3 L478.9,789.5 L482.4,790.6 L486.9,791.5 L491.9,792.2 L499.4,792.9 L508.9,793.6 L518.9,794.0 L527.9,794.1 L539.9,793.7 L558.9,792.0 L563.4,791.9 L567.4,792.2 L572.4,793.0 L577.9,794.6 L582.9,796.6 L593.4,801.5 L599.4,803.6 L605.4,805.0 L612.4,805.8 L620.4,806.1 L632.4,806.1 L678.4,804.9"/>
<path d="M92.4,806.6 L363.9,806.6 L367.4,806.3 L369.9,805.1 L370.9,804.9 L371.4,805.1 L372.4,806.0 L374.4,808.8 L374.9,809.1 L375.4,808.9 L376.4,807.2 L378.9,800.0 L382.4,791.1 L385.4,780.9 L387.4,772.0 L388.9,764.2 L390.9,751.8 L392.4,741.0 L395.4,715.5 L398.9,679.1 L401.9,643.1 L408.9,553.3 L412.9,508.9 L414.9,491.6 L416.9,478.6 L417.9,473.9 L418.9,470.5 L419.9,468.6 L420.4,468.2 L420.9,468.3 L421.4,468.8 L422.4,470.9 L424.4,478.3 L426.4,489.2 L428.9,507.1 L430.9,524.2 L433.4,548.4 L441.4,633.6 L444.9,668.3 L448.4,698.6 L451.9,723.9 L453.9,736.0 L455.9,746.4 L457.9,755.4 L459.9,762.9 L461.9,769.1 L464.4,775.4 L466.4,779.3 L468.9,783.1 L470.9,785.3 L473.4,787.3 L475.4,788.3 L477.9,789.0 L479.9,789.2 L482.4,788.9 L485.4,788.0 L492.9,785.2 L495.4,784.7 L497.9,784.7 L500.4,785.3 L502.9,786.3 L511.4,791.4 L514.9,793.2 L518.4,794.5 L521.9,795.3 L527.4,795.9 L533.9,796.0 L540.4,795.6 L554.9,794.0 L559.4,793.9 L563.9,794.2 L570.9,795.2 L583.4,797.8 L590.4,799.5 L604.9,803.7 L609.4,804.6 L614.4,805.3 L622.9,805.8 L634.4,805.8 L652.9,805.3 L678.4,804.2"/>
<path d="M92.4,806.6 L323.4,806.6 L326.4,806.4 L328.9,805.2 L329.9,805.1 L330.4,805.2 L331.4,806.3 L333.4,809.4 L333.9,809.8 L334.4,809.7 L335.4,808.3 L337.9,801.9 L341.4,794.8 L344.4,786.7 L346.4,779.7 L347.9,773.4 L350.9,757.8 L353.9,737.8 L357.4,709.2 L360.4,680.7 L367.4,609.6 L369.4,591.2 L371.4,575.0 L373.4,561.8 L375.4,552.2 L376.4,548.9 L377.4,546.7 L378.4,545.7 L378.9,545.7 L379.9,546.6 L380.9,548.3 L381.9,550.7 L383.4,555.1 L385.9,564.7 L388.4,576.8 L392.9,603.7 L401.4,661.6 L405.4,687.2 L409.4,709.5 L413.4,728.1 L415.4,736.1 L417.9,744.9 L420.4,752.5 L422.9,759.0 L425.4,764.4 L427.9,768.8 L430.4,772.2 L432.9,774.9 L434.4,776.1 L436.4,777.3 L439.9,778.7 L442.4,779.3 L451.9,780.8 L464.9,784.7 L471.9,786.0 L477.4,786.5 L484.9,786.9 L533.4,787.8 L542.9,788.5 L550.4,789.6 L556.4,791.1 L561.4,793.0 L565.9,795.2 L575.9,800.9 L580.9,803.1 L585.9,804.7 L591.9,805.8 L601.9,806.4 L617.4,806.3 L645.4,805.6 L678.4,804.3"/>
<path d="M92.4,806.6 L335.4,806.6 L338.9,806.3 L341.4,805.1 L342.4,804.9 L343.4,805.5 L345.9,808.8 L346.4,809.1 L346.9,808.8 L347.9,807.0 L352.4,793.1 L353.9,787.9 L355.4,781.6 L356.9,774.0 L358.4,764.9 L361.4,741.9 L364.4,711.7 L367.4,674.3 L370.4,631.0 L376.4,538.5 L379.9,492.5 L381.9,472.6 L383.4,461.7 L384.9,454.6 L385.9,452.2 L386.4,451.8 L386.9,451.8 L387.4,452.3 L388.4,454.3 L389.4,457.2 L390.9,463.0 L393.4,476.2 L395.9,493.5 L397.9,509.7 L400.4,532.3 L409.4,622.5 L413.4,660.2 L417.4,693.1 L421.4,720.5 L423.4,732.0 L425.9,744.5 L427.9,753.0 L430.4,762.0 L432.9,769.2 L435.4,775.1 L437.9,779.7 L440.9,784.0 L444.4,787.5 L446.4,789.1 L448.9,790.6 L451.4,791.7 L453.9,792.6 L456.9,793.4 L459.4,793.7 L462.9,793.8 L465.9,793.3 L468.9,792.3 L475.9,789.2 L477.9,788.7 L479.4,788.6 L481.4,788.7 L483.9,789.6 L486.4,790.9 L492.4,794.6 L495.9,796.3 L499.9,797.4 L504.4,798.0 L519.4,798.7 L526.9,798.6 L529.9,798.2 L532.4,797.6 L540.9,794.6 L543.4,794.2 L545.4,794.4 L547.4,795.0 L549.4,796.0 L556.9,801.4 L560.9,803.7 L562.9,804.4 L565.4,805.2 L570.4,805.9 L583.4,806.4 L609.9,806.5 L641.4,805.9 L678.4,804.8"/>
<path d="M92.4,806.6 L317.9,806.6 L321.4,806.3 L323.9,805.0 L324.9,804.8 L325.9,805.3 L328.4,808.5 L328.9,808.7 L329.4,808.4 L330.4,806.6 L332.9,798.9 L336.4,789.3 L338.4,782.4 L339.9,776.2 L341.9,766.3 L343.4,757.6 L345.4,743.9 L346.9,732.1 L350.4,699.0 L353.9,658.2 L357.4,611.1 L364.9,503.6 L366.9,477.7 L368.9,454.9 L370.9,436.0 L372.9,421.8 L373.9,416.6 L374.9,412.9 L375.9,410.6 L376.4,410.1 L376.9,410.0 L377.4,410.4 L377.9,411.1 L378.9,413.6 L379.9,417.0 L381.4,423.7 L383.9,438.7 L386.4,458.0 L390.9,501.1 L399.9,600.7 L403.9,642.2 L407.9,678.5 L411.9,708.6 L413.9,721.4 L416.4,735.3 L418.4,744.7 L420.9,754.8 L423.4,763.0 L425.9,769.6 L428.9,775.8 L431.9,780.4 L435.4,784.2 L438.9,786.9 L443.4,789.2 L448.4,790.9 L455.4,792.3 L464.4,793.5 L476.9,794.5 L487.4,795.0 L492.4,795.0 L496.4,794.6 L508.4,792.4 L512.9,792.0 L517.4,792.4 L527.9,794.5 L530.9,794.6 L533.4,794.4 L536.4,793.6 L539.9,791.9 L542.9,789.8 L548.4,785.5 L551.4,783.7 L554.4,782.6 L555.9,782.4 L557.4,782.5 L558.9,782.8 L560.9,783.6 L564.4,785.8 L567.9,788.5 L576.9,796.3 L582.4,800.3 L584.9,801.8 L587.9,803.2 L593.4,804.9 L597.9,805.7 L604.4,806.3 L644.4,808.3 L678.4,810.6"/>
<path d="M92.4,806.6 L326.4,806.7 L329.9,806.4 L332.4,805.1 L333.4,804.9 L334.4,805.3 L336.9,808.5 L337.4,808.7 L337.9,808.4 L338.9,806.5 L344.4,789.9 L345.9,784.7 L347.4,778.5 L349.4,768.7 L350.9,759.8 L352.9,746.0 L354.4,733.9 L357.4,705.0 L360.9,663.7 L363.9,622.7 L371.4,512.5 L374.9,468.1 L376.9,447.9 L378.9,432.6 L379.9,427.1 L380.9,423.0 L381.9,420.6 L382.4,420.1 L382.9,420.0 L383.4,420.4 L383.9,421.3 L384.9,424.1 L386.9,432.5 L389.4,447.5 L391.9,467.0 L395.9,505.2 L404.4,598.0 L407.9,633.6 L411.9,669.1 L415.9,698.2 L417.9,710.5 L420.4,723.8 L422.4,732.9 L424.9,742.6 L427.4,750.5 L429.9,756.9 L432.4,761.9 L435.4,766.5 L438.4,769.8 L441.4,772.1 L444.4,773.7 L447.9,774.7 L451.4,775.0 L455.4,774.5 L459.4,773.1 L467.9,769.0 L470.9,768.2 L473.4,768.2 L475.9,768.7 L478.4,769.8 L486.9,775.0 L491.4,777.2 L496.4,778.6 L502.9,779.4 L511.4,779.7 L534.4,779.9 L544.9,779.7 L548.4,779.3 L551.9,778.5 L562.4,774.6 L564.4,774.3 L566.4,774.3 L568.4,774.9 L569.9,775.7 L571.4,776.8 L573.4,778.7 L576.4,782.3 L584.4,793.0 L586.9,795.8 L589.4,798.2 L591.9,800.1 L594.9,801.9 L597.9,803.3 L600.9,804.3 L604.4,805.0 L608.9,805.6 L614.4,806.0 L620.9,806.2 L641.4,806.1 L678.4,805.2"/>
<path d="M92.4,806.6 L335.4,806.6 L338.9,806.3 L341.4,805.1 L342.4,804.9 L343.4,805.3 L345.9,808.5 L346.4,808.7 L346.9,808.4 L347.9,806.5 L352.9,790.4 L354.4,784.8 L355.9,778.0 L357.4,770.0 L358.9,760.4 L361.9,736.6 L364.9,705.6 L367.9,667.6 L370.9,623.7 L377.4,522.0 L380.9,475.3 L382.9,454.9 L384.4,443.4 L385.4,437.9 L386.4,434.1 L387.4,432.2 L387.9,432.0 L388.4,432.3 L388.9,433.0 L389.9,435.5 L390.9,438.9 L392.4,445.4 L394.9,460.0 L397.4,478.5 L401.9,519.7 L410.4,608.8 L414.4,648.1 L418.4,682.5 L422.4,711.1 L424.4,723.3 L426.9,736.4 L428.9,745.4 L431.4,755.0 L433.9,762.8 L436.4,769.0 L438.9,773.8 L441.4,777.5 L443.9,780.3 L446.4,782.2 L449.4,783.7 L452.4,784.6 L455.4,785.0 L462.9,785.6 L466.9,786.2 L471.4,787.3 L482.9,790.6 L486.9,791.5 L490.9,792.1 L499.9,792.8 L526.4,793.8 L532.4,794.3 L537.4,795.0 L541.9,796.0 L546.4,797.3 L558.4,801.9 L562.9,803.4 L567.9,804.7 L573.4,805.5 L584.4,806.3 L601.9,806.5 L633.9,806.4 L678.4,805.8"/>
<path d="M92.4,806.6 L320.9,806.6 L324.4,806.3 L326.9,805.1 L327.9,804.9 L328.9,805.4 L331.4,808.6 L331.9,808.8 L332.4,808.5 L332.9,807.7 L333.9,805.0 L337.9,791.5 L339.4,785.8 L340.9,778.9 L342.4,770.5 L343.9,760.6 L346.9,735.4 L349.9,702.4 L352.9,661.7 L361.9,515.3 L364.9,472.6 L366.9,450.2 L368.4,437.7 L369.4,431.5 L370.4,427.3 L371.4,425.2 L371.9,425.0 L372.4,425.3 L372.9,426.1 L373.9,428.7 L375.9,437.0 L378.4,452.5 L380.9,473.0 L384.9,513.6 L393.4,612.6 L396.9,650.7 L400.9,688.7 L404.4,716.0 L406.4,729.2 L408.4,740.7 L410.4,750.5 L412.9,760.6 L415.4,768.7 L417.9,775.1 L420.4,780.0 L423.4,784.4 L425.9,787.1 L428.9,789.5 L431.9,791.2 L435.4,792.6 L439.4,793.8 L444.4,794.8 L450.9,795.8 L458.4,796.6 L470.4,797.6 L483.9,798.3 L492.9,798.5 L499.4,798.2 L503.9,797.5 L508.4,796.3 L512.4,794.7 L519.9,791.3 L522.9,790.2 L525.9,789.5 L528.9,789.5 L530.9,789.7 L533.4,790.4 L542.4,794.0 L546.9,795.3 L548.9,795.5 L551.4,795.5 L559.9,794.6 L562.4,794.7 L564.4,795.0 L567.9,796.1 L576.9,799.8 L582.9,801.8 L591.4,803.9 L599.4,805.3 L606.4,806.0 L614.4,806.6 L678.4,809.3"/>
<path d="M92.4,806.6 L332.9,806.7 L335.9,806.5 L338.4,805.2 L339.4,805.0 L339.9,805.2 L340.9,806.1 L342.9,809.0 L343.4,809.2 L343.9,809.0 L344.9,807.3 L347.4,800.1 L350.9,791.2 L352.9,784.9 L354.4,779.2 L356.4,770.1 L357.9,762.0 L359.9,749.3 L361.4,738.4 L364.9,707.5 L368.4,669.5 L371.4,632.2 L378.9,532.7 L380.9,508.6 L382.9,487.2 L384.9,469.5 L386.9,456.1 L387.9,451.3 L388.9,447.7 L389.9,445.6 L390.4,445.1 L390.9,445.0 L391.4,445.4 L391.9,446.1 L392.9,448.5 L394.9,456.2 L396.9,467.0 L399.4,484.4 L403.4,519.2 L410.9,594.0 L414.4,626.6 L417.9,654.8 L421.9,681.3 L423.9,692.4 L426.4,704.5 L428.4,712.9 L430.9,721.9 L433.4,729.4 L435.9,735.6 L438.4,740.5 L441.4,744.9 L443.4,747.1 L445.9,749.2 L448.4,750.6 L451.4,751.6 L453.9,751.9 L456.4,751.8 L467.9,750.1 L470.4,750.1 L473.4,750.4 L477.4,751.2 L488.9,754.1 L507.4,758.0 L513.4,759.1 L524.9,760.7 L529.9,761.6 L533.4,762.5 L536.9,763.6 L541.9,766.1 L544.4,767.8 L546.9,769.8 L550.9,773.6 L562.9,786.3 L567.4,790.4 L572.4,794.3 L577.9,798.0 L582.9,800.9 L587.4,802.9 L592.4,804.5 L595.9,805.3 L599.4,805.8 L608.9,806.5 L678.4,807.3"/>
</g>
<g fill="none" stroke="#00BFC4" stroke-width="2.1" stroke-linejoin="round">
<path d="M92.4,806.6 L190.4,806.6 L192.9,806.4 L195.9,805.2 L196.9,805.4 L197.4,805.8 L199.9,809.1 L200.4,809.1 L200.9,808.6 L201.4,807.5 L202.9,801.0 L204.9,788.1 L206.4,775.3 L208.4,752.9 L212.4,695.3 L230.4,410.1 L231.9,390.2 L233.4,374.6 L234.4,367.7 L234.9,365.4 L235.4,363.9 L235.9,363.3 L236.4,363.5 L236.9,364.6 L237.4,366.4 L238.4,372.2 L239.4,380.1 L241.4,400.1 L249.9,493.8 L256.9,564.0 L261.4,606.0 L266.4,650.3 L270.9,688.2 L274.4,715.6 L276.9,733.3 L278.9,745.9 L280.9,756.7 L282.9,765.6 L284.9,772.6 L287.4,778.9 L289.9,783.2 L292.4,786.1 L295.9,788.9 L299.9,791.1 L305.4,793.3 L312.4,795.3 L319.9,797.0 L327.9,798.2 L337.4,799.3 L347.9,800.0 L362.9,800.7 L381.4,801.1 L408.9,801.3 L430.9,801.3 L451.4,800.6 L483.4,798.2 L490.4,797.9 L496.9,798.0 L507.4,798.5 L531.4,800.4 L543.9,801.0 L560.9,801.4 L601.9,801.6 L623.4,802.4 L634.9,803.2 L645.4,804.2 L678.4,808.6"/>
<path d="M92.4,806.6 L190.4,806.6 L192.9,806.4 L195.9,805.2 L196.9,805.4 L197.4,805.8 L199.9,809.2 L200.4,809.3 L200.9,808.9 L201.4,808.0 L202.9,802.1 L205.4,787.3 L206.9,775.5 L208.9,755.3 L212.9,705.1 L232.9,433.1 L234.4,415.9 L235.9,402.3 L236.9,396.2 L237.4,394.2 L237.9,393.0 L238.4,392.5 L238.9,392.8 L239.4,393.8 L240.4,398.0 L241.4,404.6 L242.4,413.0 L251.9,513.9 L258.9,583.0 L267.9,664.0 L271.9,697.3 L274.9,720.4 L278.9,746.8 L280.9,757.3 L282.9,765.7 L284.9,772.1 L286.9,776.9 L289.4,781.1 L291.9,784.0 L293.9,785.7 L295.9,787.0 L301.4,789.9 L308.4,792.6 L315.9,794.7 L324.4,796.4 L333.9,797.7 L344.9,798.8 L357.4,799.5 L380.4,800.2 L413.4,800.5 L570.4,800.5 L579.4,800.2 L586.4,799.4 L593.4,798.2 L607.9,794.8 L611.9,794.3 L615.9,794.1 L619.4,794.3 L623.4,794.8 L638.4,798.2 L646.4,799.5 L654.4,800.2 L678.4,801.5"/>
<path d="M92.4,806.6 L198.9,806.6 L201.4,806.4 L204.4,805.2 L205.4,805.4 L205.9,805.9 L208.4,809.2 L208.9,809.3 L209.4,808.9 L209.9,807.9 L210.9,804.2 L211.9,799.1 L213.9,786.2 L215.4,773.5 L216.9,757.8 L220.9,705.8 L238.4,456.0 L239.9,438.0 L241.4,423.8 L242.4,417.4 L242.9,415.3 L243.4,413.9 L243.9,413.4 L244.4,413.6 L244.9,414.6 L245.9,418.8 L246.9,425.3 L247.9,433.8 L249.9,453.9 L258.4,546.5 L265.4,618.1 L272.4,684.8 L274.9,706.5 L277.4,726.0 L279.4,739.3 L280.9,747.8 L282.4,754.8 L284.4,762.2 L286.4,767.6 L288.4,771.5 L290.9,775.0 L293.9,778.1 L296.9,780.6 L299.9,782.7 L303.4,784.9 L307.4,787.1 L315.4,790.7 L324.4,793.7 L333.9,796.1 L344.9,798.0 L356.9,799.5 L370.9,800.6 L396.4,801.6 L431.9,802.2 L542.9,802.4 L557.9,802.4 L564.9,802.1 L568.9,801.8 L571.9,801.3 L574.9,800.6 L577.9,799.5 L582.9,796.7 L591.4,790.6 L594.4,788.7 L597.9,787.3 L600.9,786.9 L603.4,787.1 L605.9,787.9 L608.4,789.1 L615.4,793.1 L618.4,794.6 L621.9,795.9 L625.4,796.8 L630.4,797.5 L647.4,798.7 L678.4,801.8"/>
<path d="M92.4,806.6 L199.9,806.7 L202.4,806.4 L205.4,805.2 L206.4,805.5 L206.9,805.9 L209.4,809.3 L209.9,809.4 L210.4,809.1 L210.9,808.1 L212.4,802.3 L214.9,787.9 L216.4,776.4 L218.4,756.7 L222.4,707.7 L242.4,441.8 L243.9,425.0 L245.4,411.9 L246.4,406.0 L246.9,404.1 L247.4,403.0 L247.9,402.6 L248.4,403.0 L248.9,404.1 L249.9,408.5 L251.9,424.0 L253.9,444.7 L262.9,545.7 L269.4,614.4 L276.4,683.5 L278.9,705.7 L280.9,721.6 L282.9,735.3 L284.4,743.9 L285.9,751.0 L287.9,758.4 L289.9,763.8 L291.9,767.7 L294.4,771.3 L297.9,775.0 L300.9,777.5 L304.4,780.1 L311.9,784.7 L319.9,788.6 L328.9,791.9 L338.4,794.5 L349.4,796.7 L361.4,798.3 L374.9,799.6 L397.9,800.8 L428.4,801.5 L486.9,801.8 L529.4,801.7 L541.4,801.3 L551.9,800.5 L562.4,799.3 L585.9,795.8 L592.9,795.2 L599.4,795.0 L606.4,795.3 L613.4,795.9 L638.9,799.7 L651.9,801.3 L665.4,802.4 L678.4,803.1"/>
<path d="M92.4,806.6 L201.4,806.7 L203.9,806.4 L206.4,805.3 L207.4,805.2 L208.4,805.8 L210.9,809.0 L211.4,809.1 L211.9,808.6 L212.4,807.5 L213.9,801.4 L216.4,786.1 L217.9,774.0 L219.9,753.6 L224.4,696.9 L245.4,412.8 L246.9,395.1 L248.4,380.7 L249.9,371.6 L250.4,370.0 L250.9,369.3 L251.4,369.4 L251.9,370.3 L252.9,374.6 L253.9,381.7 L254.9,391.0 L256.9,414.2 L264.9,515.6 L270.4,580.2 L278.4,666.7 L281.4,696.4 L283.9,718.9 L285.9,734.8 L287.4,745.2 L288.9,754.0 L290.9,763.3 L292.4,768.7 L294.4,774.0 L296.4,777.8 L298.9,781.0 L301.4,783.1 L303.4,783.9 L304.9,783.8 L305.9,783.0 L306.4,782.4 L307.4,780.6 L308.4,778.0 L311.4,767.6 L312.9,763.4 L313.9,761.5 L314.9,760.2 L315.9,759.3 L316.9,758.8 L318.4,758.3 L320.4,758.1 L330.9,758.3 L334.4,758.0 L337.9,757.1 L351.4,752.4 L354.4,751.8 L355.9,751.9 L357.4,752.4 L363.9,756.5 L365.4,757.1 L366.9,757.3 L369.4,756.7 L375.4,753.9 L377.9,753.2 L380.9,753.0 L387.4,753.8 L390.4,753.8 L393.9,753.3 L401.9,751.4 L404.9,750.2 L407.9,748.1 L431.9,726.9 L434.9,724.4 L436.9,723.0 L438.9,722.0 L440.9,721.3 L451.9,718.1 L455.9,717.2 L458.4,717.0 L462.4,717.8 L477.4,722.4 L480.4,723.6 L482.9,725.1 L486.9,728.8 L513.9,756.8 L547.9,787.2 L551.4,790.2 L554.4,792.2 L558.4,794.4 L564.9,797.4 L567.9,798.4 L570.9,798.9 L599.4,800.9 L678.4,804.5"/>
<path d="M92.4,806.6 L205.9,806.6 L208.4,806.4 L211.4,805.2 L212.4,805.4 L212.9,805.8 L215.4,809.4 L215.9,809.6 L216.4,809.2 L216.9,808.3 L218.4,802.9 L220.9,789.5 L222.4,779.0 L224.4,761.2 L228.4,716.9 L248.4,477.6 L249.9,462.6 L251.4,451.0 L252.4,445.9 L252.9,444.3 L253.4,443.4 L253.9,443.2 L254.4,443.7 L255.4,446.5 L256.4,451.7 L257.4,458.7 L259.4,476.1 L267.4,552.6 L273.9,609.5 L282.4,677.4 L286.4,707.0 L289.9,731.1 L293.9,754.8 L295.9,764.3 L297.9,772.0 L299.9,777.9 L301.9,782.3 L304.4,786.1 L306.9,788.7 L309.9,790.8 L313.9,792.8 L318.9,794.6 L324.9,796.3 L331.4,797.7 L338.4,798.8 L346.4,799.7 L354.9,800.4 L374.4,801.3 L401.9,801.8 L466.9,802.0 L498.4,801.7 L513.4,801.1 L526.4,800.0 L542.9,797.8 L557.4,795.3 L562.9,793.7 L567.4,791.8 L571.4,789.5 L578.4,784.9 L581.4,783.3 L583.9,782.4 L586.4,782.2 L588.9,782.5 L591.9,783.8 L594.9,785.9 L602.9,792.5 L606.9,795.3 L611.4,797.7 L616.4,799.4 L622.4,800.6 L630.4,801.6 L678.4,805.9"/>
<path d="M92.4,806.6 L209.4,806.6 L211.9,806.4 L214.9,805.2 L215.9,805.4 L216.4,805.8 L218.9,809.0 L219.4,809.1 L219.9,808.6 L220.4,807.5 L221.9,801.3 L224.4,785.7 L225.9,773.1 L227.9,751.9 L231.9,699.6 L252.4,410.0 L253.9,392.1 L255.4,378.1 L256.4,371.9 L256.9,369.8 L257.4,368.6 L257.9,368.2 L258.4,368.6 L258.9,369.8 L259.9,374.4 L260.9,381.5 L262.4,395.7 L271.4,501.0 L276.9,562.7 L283.9,637.1 L289.4,691.1 L292.4,717.0 L295.4,738.3 L297.9,751.1 L299.4,756.1 L300.4,758.0 L300.9,758.5 L301.4,758.7 L301.9,758.5 L302.4,758.1 L303.4,756.5 L305.9,751.5 L306.9,750.0 L308.4,748.7 L309.9,748.3 L311.9,748.5 L312.9,749.0 L314.4,750.0 L316.4,751.9 L322.9,759.3 L324.4,760.6 L325.9,761.2 L327.4,761.3 L329.4,760.9 L338.4,756.9 L340.9,755.2 L343.4,752.9 L353.4,741.8 L357.9,735.8 L367.9,720.1 L369.9,718.0 L371.4,717.5 L372.4,717.7 L373.4,718.4 L375.4,720.6 L380.9,728.5 L383.9,733.7 L386.9,740.8 L393.4,759.4 L396.4,767.4 L401.4,779.3 L404.4,785.3 L406.4,787.9 L408.9,790.0 L416.4,794.0 L420.4,795.7 L422.9,796.2 L426.4,796.6 L465.9,800.6 L472.4,801.0 L560.4,803.0 L678.4,805.0"/>
<path d="M92.4,806.6 L212.4,806.6 L214.9,806.4 L217.9,805.2 L218.9,805.4 L219.4,805.8 L221.9,809.2 L222.4,809.3 L222.9,808.9 L223.4,807.9 L224.4,804.4 L225.4,799.3 L227.9,782.8 L229.4,769.1 L231.4,745.8 L235.4,689.1 L255.9,376.6 L257.4,357.4 L258.9,342.2 L259.9,335.4 L260.4,333.2 L260.9,331.9 L261.4,331.4 L261.9,331.8 L262.4,333.0 L263.4,337.9 L264.4,345.5 L265.4,355.1 L275.9,484.6 L282.9,566.4 L290.9,653.5 L294.4,688.5 L296.9,711.2 L298.9,727.2 L300.9,740.9 L302.4,749.5 L304.4,758.6 L306.4,765.5 L308.4,770.5 L310.9,774.9 L313.4,778.1 L315.9,780.6 L318.4,782.7 L321.4,784.9 L324.9,787.1 L332.4,791.0 L340.4,794.1 L349.4,796.8 L358.9,798.8 L369.9,800.4 L381.9,801.6 L392.4,802.3 L403.4,802.8 L413.9,802.9 L423.9,802.8 L439.4,802.0 L466.9,799.3 L473.9,799.0 L480.4,799.0 L490.4,799.5 L517.4,802.4 L532.9,803.4 L550.4,803.8 L601.9,803.9 L623.9,804.4 L652.4,805.5 L678.4,807.4"/>
<path d="M92.4,806.6 L230.9,806.6 L233.4,806.4 L236.4,805.2 L237.4,805.3 L237.9,805.7 L240.4,809.0 L240.9,809.1 L241.4,808.6 L241.9,807.6 L243.4,801.6 L245.9,787.0 L247.4,775.6 L249.4,756.4 L253.9,703.2 L275.4,430.7 L277.4,409.7 L278.9,398.1 L279.9,393.3 L280.4,391.8 L280.9,391.0 L281.4,390.9 L281.9,391.5 L282.4,392.6 L283.4,396.7 L285.4,410.1 L296.4,508.1 L304.4,574.9 L314.4,652.0 L318.9,684.6 L322.9,711.9 L325.4,727.5 L327.9,741.4 L329.9,750.9 L331.9,758.8 L333.9,765.3 L336.4,771.3 L338.9,775.7 L341.4,778.8 L343.4,780.7 L345.4,782.3 L350.9,785.6 L358.4,789.0 L366.9,792.0 L375.9,794.4 L385.4,796.3 L396.4,797.9 L408.4,799.2 L419.4,800.0 L431.4,800.6 L443.4,801.0 L454.4,801.1 L469.4,800.6 L494.9,798.8 L500.9,798.7 L506.9,798.7 L515.4,799.3 L535.9,801.1 L547.4,801.7 L562.9,802.0 L603.4,802.2 L627.4,803.1 L638.4,803.8 L648.9,804.8 L678.4,808.4"/>
<path d="M92.4,806.6 L239.9,806.6 L242.4,806.4 L245.4,805.2 L246.4,805.4 L246.9,805.8 L249.4,809.0 L249.9,809.1 L250.4,808.6 L250.9,807.5 L251.9,803.7 L252.9,798.3 L254.9,784.7 L256.4,771.4 L258.4,748.5 L262.4,691.9 L277.9,453.4 L281.4,401.8 L282.9,382.9 L284.4,368.2 L285.4,361.7 L285.9,359.6 L286.4,358.3 L286.9,357.9 L287.4,358.3 L288.4,361.3 L289.4,367.0 L290.4,374.7 L292.4,394.1 L300.9,484.4 L308.4,557.1 L317.9,641.1 L322.4,678.2 L326.4,709.2 L328.9,727.0 L331.4,742.8 L333.4,753.8 L335.4,762.9 L337.4,770.3 L339.4,776.0 L341.9,781.1 L344.4,784.6 L345.9,786.2 L347.9,787.9 L351.9,790.4 L357.4,792.9 L364.4,795.2 L371.9,797.1 L380.4,798.6 L389.9,799.9 L400.4,800.8 L420.4,801.8 L446.4,802.3 L475.4,802.4 L494.4,801.9 L506.9,801.0 L528.4,798.6 L536.4,797.9 L545.4,797.6 L559.9,797.8 L564.9,797.4 L568.4,796.8 L571.4,796.0 L580.4,792.5 L583.4,791.5 L585.9,791.0 L588.4,790.9 L591.4,791.3 L594.4,792.2 L597.4,793.7 L604.9,797.9 L608.4,799.6 L612.4,801.2 L616.9,802.3 L624.9,803.4 L645.4,805.0 L657.9,806.1 L678.4,808.7"/>
<path d="M92.4,806.6 L242.4,806.6 L244.9,806.4 L247.9,805.2 L248.9,805.4 L249.4,805.8 L251.9,809.3 L252.4,809.4 L252.9,809.0 L253.4,808.1 L254.9,802.3 L257.4,787.9 L258.9,776.3 L260.9,756.4 L265.4,699.9 L285.9,421.6 L287.4,404.5 L288.9,391.1 L289.9,384.9 L290.4,382.9 L290.9,381.5 L291.4,380.9 L291.9,381.0 L292.4,381.8 L293.4,385.2 L294.4,390.8 L295.4,398.1 L306.9,504.9 L314.9,575.0 L325.4,660.6 L329.4,691.1 L332.9,715.8 L335.4,731.7 L337.4,742.9 L339.4,752.6 L341.4,760.5 L343.4,766.8 L345.4,771.7 L347.9,776.2 L350.4,779.4 L353.9,782.6 L358.4,785.7 L364.4,788.8 L370.9,791.6 L378.4,794.2 L386.4,796.3 L394.4,797.9 L401.4,798.7 L405.9,798.9 L410.4,798.9 L426.4,797.3 L433.4,797.3 L440.4,798.2 L453.9,801.4 L460.9,802.6 L468.9,803.4 L479.9,803.9 L531.9,804.3 L639.4,804.4 L678.4,805.0"/>
<path d="M92.4,806.6 L249.4,806.6 L251.9,806.4 L254.9,805.2 L255.9,805.4 L256.4,805.8 L258.9,809.1 L259.4,809.2 L259.9,808.8 L260.4,807.8 L261.4,804.1 L262.4,799.0 L264.4,786.2 L265.9,773.6 L267.9,752.2 L271.9,698.9 L291.4,418.2 L292.9,400.1 L294.4,385.7 L295.9,376.7 L296.4,375.1 L296.9,374.3 L297.4,374.1 L297.9,374.6 L298.9,377.6 L299.9,382.6 L300.9,389.3 L312.4,486.8 L321.4,557.2 L326.4,593.7 L331.9,632.0 L337.9,672.0 L342.9,703.6 L345.9,721.5 L348.9,737.9 L351.4,750.0 L353.9,760.3 L356.4,768.7 L358.9,775.2 L361.4,780.0 L364.4,784.1 L367.4,786.9 L371.4,789.5 L375.9,791.6 L381.9,793.6 L389.4,795.6 L397.9,797.4 L406.9,798.8 L415.9,799.7 L423.4,800.0 L429.4,799.7 L434.4,798.9 L445.9,796.3 L448.9,795.9 L451.9,795.8 L454.9,796.1 L457.9,796.7 L468.9,800.0 L473.4,801.1 L478.4,801.9 L483.9,802.4 L502.4,802.8 L599.9,803.0 L613.9,803.3 L630.4,804.0 L645.4,804.9 L658.4,806.1 L678.4,808.4"/>
</g>
<path d="M62.9,307.5 V838 H708" fill="none" stroke="#111" stroke-width="1.9"/>
<line x1="57.5" y1="806.6" x2="62.9" y2="806.6" stroke="#333" stroke-width="1.4"/>
<text x="53.6" y="812.2" font-size="15.6" text-anchor="end" fill="#4d4d4d" textLength="23.2" lengthAdjust="spacingAndGlyphs">0.0</text>
<line x1="57.5" y1="626.6" x2="62.9" y2="626.6" stroke="#333" stroke-width="1.4"/>
<text x="53.6" y="632.2" font-size="15.6" text-anchor="end" fill="#4d4d4d" textLength="23.2" lengthAdjust="spacingAndGlyphs">0.5</text>
<line x1="57.5" y1="446.6" x2="62.9" y2="446.6" stroke="#333" stroke-width="1.4"/>
<text x="53.6" y="452.2" font-size="15.6" text-anchor="end" fill="#4d4d4d" textLength="23.2" lengthAdjust="spacingAndGlyphs">1.0</text>
<line x1="85.8" y1="838" x2="85.8" y2="843.5" stroke="#333" stroke-width="1.4"/>
<text x="85.8" y="859.5" font-size="15.8" text-anchor="middle" fill="#4d4d4d" textLength="32" lengthAdjust="spacingAndGlyphs">75.0</text>
<line x1="234.0" y1="838" x2="234.0" y2="843.5" stroke="#333" stroke-width="1.4"/>
<text x="234.0" y="859.5" font-size="15.8" text-anchor="middle" fill="#4d4d4d" textLength="32" lengthAdjust="spacingAndGlyphs">77.5</text>
<line x1="382.2" y1="838" x2="382.2" y2="843.5" stroke="#333" stroke-width="1.4"/>
<text x="382.2" y="859.5" font-size="15.8" text-anchor="middle" fill="#4d4d4d" textLength="32" lengthAdjust="spacingAndGlyphs">80.0</text>
<line x1="530.4" y1="838" x2="530.4" y2="843.5" stroke="#333" stroke-width="1.4"/>
<text x="530.4" y="859.5" font-size="15.8" text-anchor="middle" fill="#4d4d4d" textLength="32" lengthAdjust="spacingAndGlyphs">82.5</text>
<line x1="678.6" y1="838" x2="678.6" y2="843.5" stroke="#333" stroke-width="1.4"/>
<text x="678.6" y="859.5" font-size="15.8" text-anchor="middle" fill="#4d4d4d" textLength="32" lengthAdjust="spacingAndGlyphs">85.0</text>
<text x="386.2" y="882.7" font-size="18.6" text-anchor="middle" fill="#000" textLength="150" lengthAdjust="spacingAndGlyphs">Temperature [°C]</text>
<text transform="translate(21.3,572.3) rotate(-90)" font-size="17.5" text-anchor="middle" fill="#000" textLength="64" lengthAdjust="spacingAndGlyphs">−dF/dT</text>
<text x="669" y="326" font-family="Liberation Serif" font-weight="bold" font-size="26">c</text>
<text x="598" y="419.4" font-size="12.3" fill="#111">Taxon:</text>
<rect x="599.8" y="434.1" width="15.5" height="4.8" fill="#F8766D"/>
<rect x="599.8" y="453.3" width="15.5" height="4.8" fill="#00BFC4"/>
<text x="624.2" y="441.3" font-size="13.1" font-style="italic" fill="#111">C. luteus</text>
<text x="624.2" y="460.5" font-size="13.1" font-style="italic" fill="#111">C. variegatus</text>
<defs>
<filter id="soft" x="-10%" y="-10%" width="120%" height="120%"><feGaussianBlur stdDeviation="0.55"/></filter>
<filter id="soft2" x="-100%" y="-100%" width="300%" height="300%"><feGaussianBlur stdDeviation="2.2"/></filter>
<filter id="soft3" x="-100%" y="-100%" width="300%" height="300%"><feGaussianBlur stdDeviation="4"/></filter>
<radialGradient id="pr1" cx="0.7" cy="0.5" r="0.75">
 <stop offset="0" stop-color="#9a7a50"/><stop offset="0.4" stop-color="#8c6c44"/><stop offset="0.8" stop-color="#705434"/><stop offset="1" stop-color="#4e3c28"/></radialGradient>
<radialGradient id="el2" cx="0.5" cy="0.5" r="0.62">
 <stop offset="0" stop-color="#4e3a2e"/><stop offset="0.55" stop-color="#54402f"/><stop offset="1" stop-color="#6a5444"/></radialGradient>
<radialGradient id="pr2" cx="0.55" cy="0.45" r="0.65">
 <stop offset="0" stop-color="#85563c"/><stop offset="0.55" stop-color="#7a5842"/><stop offset="1" stop-color="#6c5a4c"/></radialGradient>
<linearGradient id="lv1" x1="0" y1="0" x2="0" y2="1">
 <stop offset="0" stop-color="#9c8262"/><stop offset="0.3" stop-color="#b89c78"/><stop offset="0.6" stop-color="#bea27e"/><stop offset="1" stop-color="#957a5c"/></linearGradient>
<linearGradient id="lv2" x1="0" y1="0" x2="0" y2="1">
 <stop offset="0" stop-color="#a2a4a0"/><stop offset="0.35" stop-color="#b8bab8"/><stop offset="0.65" stop-color="#bdbfbd"/><stop offset="1" stop-color="#9fa19d"/></linearGradient>
<clipPath id="cel1"><path d="M138.5,412 C141,405.5 160,405.5 178,407 C195,409.5 202.5,421 202.3,437 C202,452 195,464 178,466.5 C160,468 142,468 138.5,462 Z"/></clipPath>
<clipPath id="cel2"><path d="M535,572 C540,565.5 560,565 578,566 C598,568 607.8,582 607.8,597.5 C607.8,613 598,627 578,629.5 C560,631 541,630.5 535,624 C533.5,607 533.5,589 535,572Z"/></clipPath>
<radialGradient id="sg1" cx="0.5" cy="0.45" r="0.55">
 <stop offset="0" stop-color="#c4a985"/><stop offset="0.6" stop-color="#b39672"/><stop offset="1" stop-color="#957a5a"/></radialGradient>
<radialGradient id="sg2" cx="0.5" cy="0.45" r="0.55">
 <stop offset="0" stop-color="#cacccb"/><stop offset="0.6" stop-color="#babcba"/><stop offset="1" stop-color="#9fa19d"/></radialGradient>
<radialGradient id="rg_red1"><stop offset="0" stop-color="#4e2619" stop-opacity="0.8"/><stop offset="1" stop-color="#4e2619" stop-opacity="0"/></radialGradient>
<radialGradient id="rg_brn1"><stop offset="0" stop-color="#7a4c2c" stop-opacity="0.95"/><stop offset="0.6" stop-color="#6e4428" stop-opacity="0.6"/><stop offset="1" stop-color="#6e4428" stop-opacity="0"/></radialGradient>
<radialGradient id="rg_hl1"><stop offset="0" stop-color="#8e8680" stop-opacity="0.75"/><stop offset="1" stop-color="#8e8680" stop-opacity="0"/></radialGradient>
<radialGradient id="rg_hl2"><stop offset="0" stop-color="#b4aa9c" stop-opacity="0.85"/><stop offset="1" stop-color="#b4aa9c" stop-opacity="0"/></radialGradient>
<radialGradient id="rg_dk2"><stop offset="0" stop-color="#2a1d16" stop-opacity="0.7"/><stop offset="1" stop-color="#2a1d16" stop-opacity="0"/></radialGradient>
<radialGradient id="rg_hl3"><stop offset="0" stop-color="#7a706a" stop-opacity="0.6"/><stop offset="1" stop-color="#7a706a" stop-opacity="0"/></radialGradient>
<radialGradient id="rg_red2"><stop offset="0" stop-color="#8a4a2a" stop-opacity="0.45"/><stop offset="1" stop-color="#8a4a2a" stop-opacity="0"/></radialGradient>
</defs>
<g filter="url(#soft)">
<path d="M107.8,337.1 L110.5,331.8 L112.6,337.1 Z" fill="#ad9574"/>
<path d="M118.3,336.2 L121.0,330.9 L123.1,336.2 Z" fill="#ad9574"/>
<path d="M129.3,335.6 L132.0,330.3 L134.1,335.6 Z" fill="#ad9574"/>
<path d="M142.3,335.3 L145.0,330.0 L147.1,335.3 Z" fill="#ad9574"/>
<path d="M154.7,336.0 L157.4,330.7 L159.5,336.0 Z" fill="#ad9574"/>
<path d="M166.1,336.8 L168.8,331.5 L170.9,336.8 Z" fill="#ad9574"/>
<path d="M177.7,338.1 L180.4,332.8 L182.5,338.1 Z" fill="#ad9574"/>
<path d="M189.0,339.9 L191.7,334.6 L193.8,339.9 Z" fill="#ad9574"/>
<path d="M200.3,342.0 L203.0,336.7 L205.1,342.0 Z" fill="#ad9574"/>
<path d="M210.5,344.0 L213.2,338.7 L215.3,344.0 Z" fill="#ad9574"/>
<path d="M218.4,345.8 L221.1,340.5 L223.2,345.8 Z" fill="#ad9574"/>
<path d="M89.3,341.0 C91.9,338.8 96.8,338.6 100.6,337.6 C104.4,336.7 107.2,335.9 111.9,335.3 C116.6,334.7 123.3,334.4 128.8,334.2 C134.3,333.9 138.9,333.7 145.0,333.8 C151.1,333.9 158.7,334.4 165.4,335.0 C172.1,335.6 179.3,336.4 185.0,337.2 C190.7,338.0 194.8,338.9 199.3,339.8 C203.8,340.7 208.2,341.5 212.0,342.3 C215.8,343.1 219.1,343.8 221.9,344.6 C224.7,345.4 228.7,346.0 228.7,347.3 C228.7,348.6 224.3,351.1 222.0,352.5 C219.7,353.9 218.8,354.7 215.1,355.9 C211.4,357.1 204.5,358.7 200.0,359.6 C195.5,360.6 193.0,361.1 188.0,361.6 C183.0,362.1 175.7,362.6 170.0,362.8 C164.3,363.0 160.0,362.9 154.1,362.8 C148.2,362.7 141.5,362.4 134.5,362.0 C127.5,361.6 118.5,361.0 111.9,360.2 C105.3,359.4 99.5,359.0 95.0,357.4 C90.5,355.8 85.8,353.3 84.8,350.6 C83.8,347.9 86.7,343.2 89.3,341.0Z" fill="url(#lv1)"/>
<ellipse cx="97.0" cy="348.2" rx="7.2" ry="10.1" fill="url(#sg1)"/>
<ellipse cx="108.6" cy="347.8" rx="7.2" ry="12.4" fill="url(#sg1)"/>
<ellipse cx="120.2" cy="347.8" rx="7.2" ry="13.7" fill="url(#sg1)"/>
<ellipse cx="131.8" cy="348.0" rx="7.2" ry="14.4" fill="url(#sg1)"/>
<ellipse cx="143.4" cy="348.1" rx="7.2" ry="14.9" fill="url(#sg1)"/>
<ellipse cx="155.0" cy="348.6" rx="7.2" ry="14.8" fill="url(#sg1)"/>
<ellipse cx="166.6" cy="349.0" rx="7.2" ry="14.4" fill="url(#sg1)"/>
<ellipse cx="178.2" cy="349.3" rx="7.2" ry="13.5" fill="url(#sg1)"/>
<ellipse cx="189.8" cy="349.7" rx="7.2" ry="12.2" fill="url(#sg1)"/>
<ellipse cx="201.4" cy="349.7" rx="7.2" ry="10.1" fill="url(#sg1)"/>
<ellipse cx="213.0" cy="349.5" rx="7.2" ry="7.5" fill="url(#sg1)"/>
<ellipse cx="98.0" cy="346.3" rx="2.6" ry="2" fill="#dcccb4" opacity="0.35"/>
<ellipse cx="109.6" cy="345.4" rx="2.6" ry="2" fill="#dcccb4" opacity="0.35"/>
<ellipse cx="121.2" cy="345.2" rx="2.6" ry="2" fill="#dcccb4" opacity="0.35"/>
<ellipse cx="132.8" cy="345.2" rx="2.6" ry="2" fill="#dcccb4" opacity="0.35"/>
<ellipse cx="144.4" cy="345.2" rx="2.6" ry="2" fill="#dcccb4" opacity="0.35"/>
<ellipse cx="156.0" cy="345.8" rx="2.6" ry="2" fill="#dcccb4" opacity="0.35"/>
<ellipse cx="167.6" cy="346.2" rx="2.6" ry="2" fill="#dcccb4" opacity="0.35"/>
<ellipse cx="179.2" cy="346.8" rx="2.6" ry="2" fill="#dcccb4" opacity="0.35"/>
<ellipse cx="190.8" cy="347.4" rx="2.6" ry="2" fill="#dcccb4" opacity="0.35"/>
<ellipse cx="202.4" cy="347.8" rx="2.6" ry="2" fill="#dcccb4" opacity="0.35"/>
<ellipse cx="214.0" cy="348.1" rx="2.6" ry="2" fill="#dcccb4" opacity="0.35"/>
<path d="M80.3,346.6 C81,343.5 85,341 91,341 C94,344 94,351 91,354 C86,354 81,350 80.3,346.6Z" fill="#8a6a48"/>
<ellipse cx="83.3" cy="347" rx="3.2" ry="3" fill="#4e341e"/>
<path d="M95.0,358.5 l-1.2,4.5" stroke="#a58c70" stroke-width="1.2" />
<path d="M103.0,358.5 l-1.2,4.5" stroke="#a58c70" stroke-width="1.2" />
<path d="M111.0,358.5 l-1.2,4.5" stroke="#a58c70" stroke-width="1.2" />
</g>
<g filter="url(#soft)">
<g stroke="#5d4128" stroke-width="2.8" fill="none" stroke-linecap="round">
<path d="M110,416 L98,420 L87,427"/>
<path d="M108,447 L96,444 L84,447"/>
<path d="M110,452 L113,458 L115,464"/>
<path d="M136.5,462 L138,474 L139.5,483"/>
<path d="M182,464 L194,469 L203.5,479"/>
</g>
<path d="M87,427 l-3,1.5 M84,447 l-2.5,-0.5 M139.5,483 l0,2 M203.5,479 l1,2.5" stroke="#b09068" stroke-width="1.3"/>
<g clip-path="url(#cel1)">
<rect x="135" y="402" width="70" height="70" fill="#251813"/>
<ellipse cx="140" cy="437" rx="20" ry="34" fill="url(#rg_brn1)"/>
<ellipse cx="188" cy="446" rx="14" ry="16" fill="url(#rg_red1)"/>
<ellipse cx="158" cy="436" rx="16" ry="7.5" fill="url(#rg_hl1)"/>
<path d="M140,438 C160,439 185,437 202,437" stroke="#140c08" stroke-width="0.8" fill="none" opacity="0.6"/>
</g>
<ellipse cx="105" cy="434" rx="6.5" ry="13" fill="#2f2820"/>
<ellipse cx="103" cy="431" rx="3" ry="6" fill="#5a4530" opacity="0.6"/>
<path d="M139,406.5 C130,405.5 118,406 113,411 C107,418 106.5,447 110,455 C114,462 126,465.5 138.5,465 C140.5,447 140.5,425 139,406.5 Z" fill="url(#pr1)"/>
<ellipse cx="133" cy="437" rx="7" ry="13" fill="url(#rg_hl2)"/>
<circle cx="121" cy="421" r="1.6" fill="#3b2a1a"/>
<circle cx="126" cy="431" r="1.7" fill="#3b2a1a"/>
<circle cx="124" cy="444" r="1.7" fill="#3b2a1a"/>
<circle cx="118" cy="450" r="1.4" fill="#3b2a1a"/>
<circle cx="113" cy="428" r="1.2" fill="#3b2a1a"/>
</g>
<g filter="url(#soft)">
<g stroke="#86664c" stroke-width="2.6" fill="none" stroke-linecap="round">
<path d="M536,626 L541,638 L549,648"/>
<path d="M576,628 L584,633 L591,638"/>
</g>
<path d="M549,648 l2,1.5 M591,638 l2,0.5" stroke="#b09070" stroke-width="1.3"/>
<g clip-path="url(#cel2)">
<rect x="530" y="560" width="85" height="75" fill="url(#el2)"/>
<ellipse cx="572" cy="590" rx="36" ry="17" fill="url(#rg_dk2)"/>
<ellipse cx="576" cy="600" rx="16" ry="9" fill="url(#rg_hl3)"/>
<path d="M537,597 C560,598 590,597 608,597" stroke="#2a1c14" stroke-width="0.7" fill="none" opacity="0.5"/>
</g>
<ellipse cx="503" cy="601" rx="5.5" ry="12" fill="#4a4040"/>
<path d="M536,567 C527,565.5 514,567 509,575 C504,584 503.5,613 508,621 C513,628 525,630 536,629 C537.5,610 537.5,588 536,567Z" fill="url(#pr2)"/>
<ellipse cx="521" cy="596" rx="11" ry="20" fill="url(#rg_red2)"/>
</g>
<g filter="url(#soft)">
<path d="M555.4,686.3 L558.2,681.0 L560.6,686.3 Z" fill="#aeb0ad"/>
<path d="M566.1,685.4 L568.9,680.1 L571.3,685.4 Z" fill="#aeb0ad"/>
<path d="M576.8,684.7 L579.6,679.4 L582.0,684.7 Z" fill="#aeb0ad"/>
<path d="M591.4,684.6 L594.2,679.3 L596.6,684.6 Z" fill="#aeb0ad"/>
<path d="M605.0,684.7 L607.8,679.4 L610.2,684.7 Z" fill="#aeb0ad"/>
<path d="M618.4,685.0 L621.2,679.7 L623.6,685.0 Z" fill="#aeb0ad"/>
<path d="M631.8,685.5 L634.6,680.2 L637.0,685.5 Z" fill="#aeb0ad"/>
<path d="M645.2,686.5 L648.0,681.2 L650.4,686.5 Z" fill="#aeb0ad"/>
<path d="M658.4,687.7 L661.2,682.4 L663.6,687.7 Z" fill="#aeb0ad"/>
<path d="M673.4,690.3 L676.2,685.0 L678.6,690.3 Z" fill="#aeb0ad"/>
<path d="M684.2,692.8 L687.0,687.5 L689.4,692.8 Z" fill="#aeb0ad"/>
<path d="M541.8,687.4 C545.5,685.3 553.3,685.2 560.0,684.5 C566.7,683.8 573.7,683.2 582.0,683.0 C590.3,682.8 601.0,683.0 610.0,683.2 C619.0,683.4 627.5,683.5 635.8,684.0 C644.1,684.5 653.3,685.2 660.0,686.0 C666.7,686.8 671.0,687.8 676.0,688.8 C681.0,689.8 686.4,691.0 690.0,692.0 C693.6,693.0 697.5,693.2 697.5,694.5 C697.5,695.8 693.6,697.9 690.0,700.0 C686.4,702.1 681.8,705.2 676.0,707.0 C670.2,708.8 661.7,710.2 655.0,711.0 C648.3,711.8 643.3,711.7 635.8,712.0 C628.3,712.3 619.0,712.5 610.0,712.6 C601.0,712.7 590.3,712.8 582.0,712.4 C573.7,712.0 566.7,711.0 560.0,710.0 C553.3,709.0 545.5,708.4 541.8,706.2 C538.1,704.0 538.0,700.1 538.0,697.0 C538.0,693.9 538.1,689.5 541.8,687.4Z" fill="url(#lv2)"/>
<ellipse cx="548.0" cy="697.0" rx="8" ry="11.1" fill="url(#sg2)"/>
<ellipse cx="561.3" cy="697.3" rx="8" ry="13.5" fill="url(#sg2)"/>
<ellipse cx="574.6" cy="697.5" rx="8" ry="14.6" fill="url(#sg2)"/>
<ellipse cx="587.9" cy="697.7" rx="8" ry="15.3" fill="url(#sg2)"/>
<ellipse cx="601.2" cy="697.8" rx="8" ry="15.3" fill="url(#sg2)"/>
<ellipse cx="614.5" cy="697.9" rx="8" ry="15.2" fill="url(#sg2)"/>
<ellipse cx="627.8" cy="698.0" rx="8" ry="14.8" fill="url(#sg2)"/>
<ellipse cx="641.1" cy="698.1" rx="8" ry="14.2" fill="url(#sg2)"/>
<ellipse cx="654.4" cy="698.3" rx="8" ry="13.3" fill="url(#sg2)"/>
<ellipse cx="667.7" cy="698.0" rx="8" ry="11.2" fill="url(#sg2)"/>
<ellipse cx="681.0" cy="697.2" rx="8" ry="7.9" fill="url(#sg2)"/>
<ellipse cx="549.0" cy="694.8" rx="3" ry="2.2" fill="#dfe1e0" opacity="0.45"/>
<ellipse cx="562.3" cy="694.7" rx="3" ry="2.2" fill="#dfe1e0" opacity="0.45"/>
<ellipse cx="575.6" cy="694.7" rx="3" ry="2.2" fill="#dfe1e0" opacity="0.45"/>
<ellipse cx="588.9" cy="694.8" rx="3" ry="2.2" fill="#dfe1e0" opacity="0.45"/>
<ellipse cx="602.2" cy="694.9" rx="3" ry="2.2" fill="#dfe1e0" opacity="0.45"/>
<ellipse cx="615.5" cy="695.0" rx="3" ry="2.2" fill="#dfe1e0" opacity="0.45"/>
<ellipse cx="628.8" cy="695.1" rx="3" ry="2.2" fill="#dfe1e0" opacity="0.45"/>
<ellipse cx="642.1" cy="695.4" rx="3" ry="2.2" fill="#dfe1e0" opacity="0.45"/>
<ellipse cx="655.4" cy="695.7" rx="3" ry="2.2" fill="#dfe1e0" opacity="0.45"/>
<ellipse cx="668.7" cy="695.8" rx="3" ry="2.2" fill="#dfe1e0" opacity="0.45"/>
<ellipse cx="682.0" cy="695.8" rx="3" ry="2.2" fill="#dfe1e0" opacity="0.45"/>
<path d="M524,693 C527,689.5 533,688.5 541,689 C543,693 543,701 540,704 C533,702 527,699.5 524,697Z" fill="#54402e"/>
<path d="M524,693 l-3,-2.5 M697,694 l3,-3.5" stroke="#7a6550" stroke-width="1.1"/>
<path d="M543.0,710 l-1,5" stroke="#a08a70" stroke-width="1.1"/>
<path d="M557.0,710 l-1,5" stroke="#a08a70" stroke-width="1.1"/>
<path d="M571.0,710 l-1,5" stroke="#a08a70" stroke-width="1.1"/>
</g>
</svg>
</body></html>
